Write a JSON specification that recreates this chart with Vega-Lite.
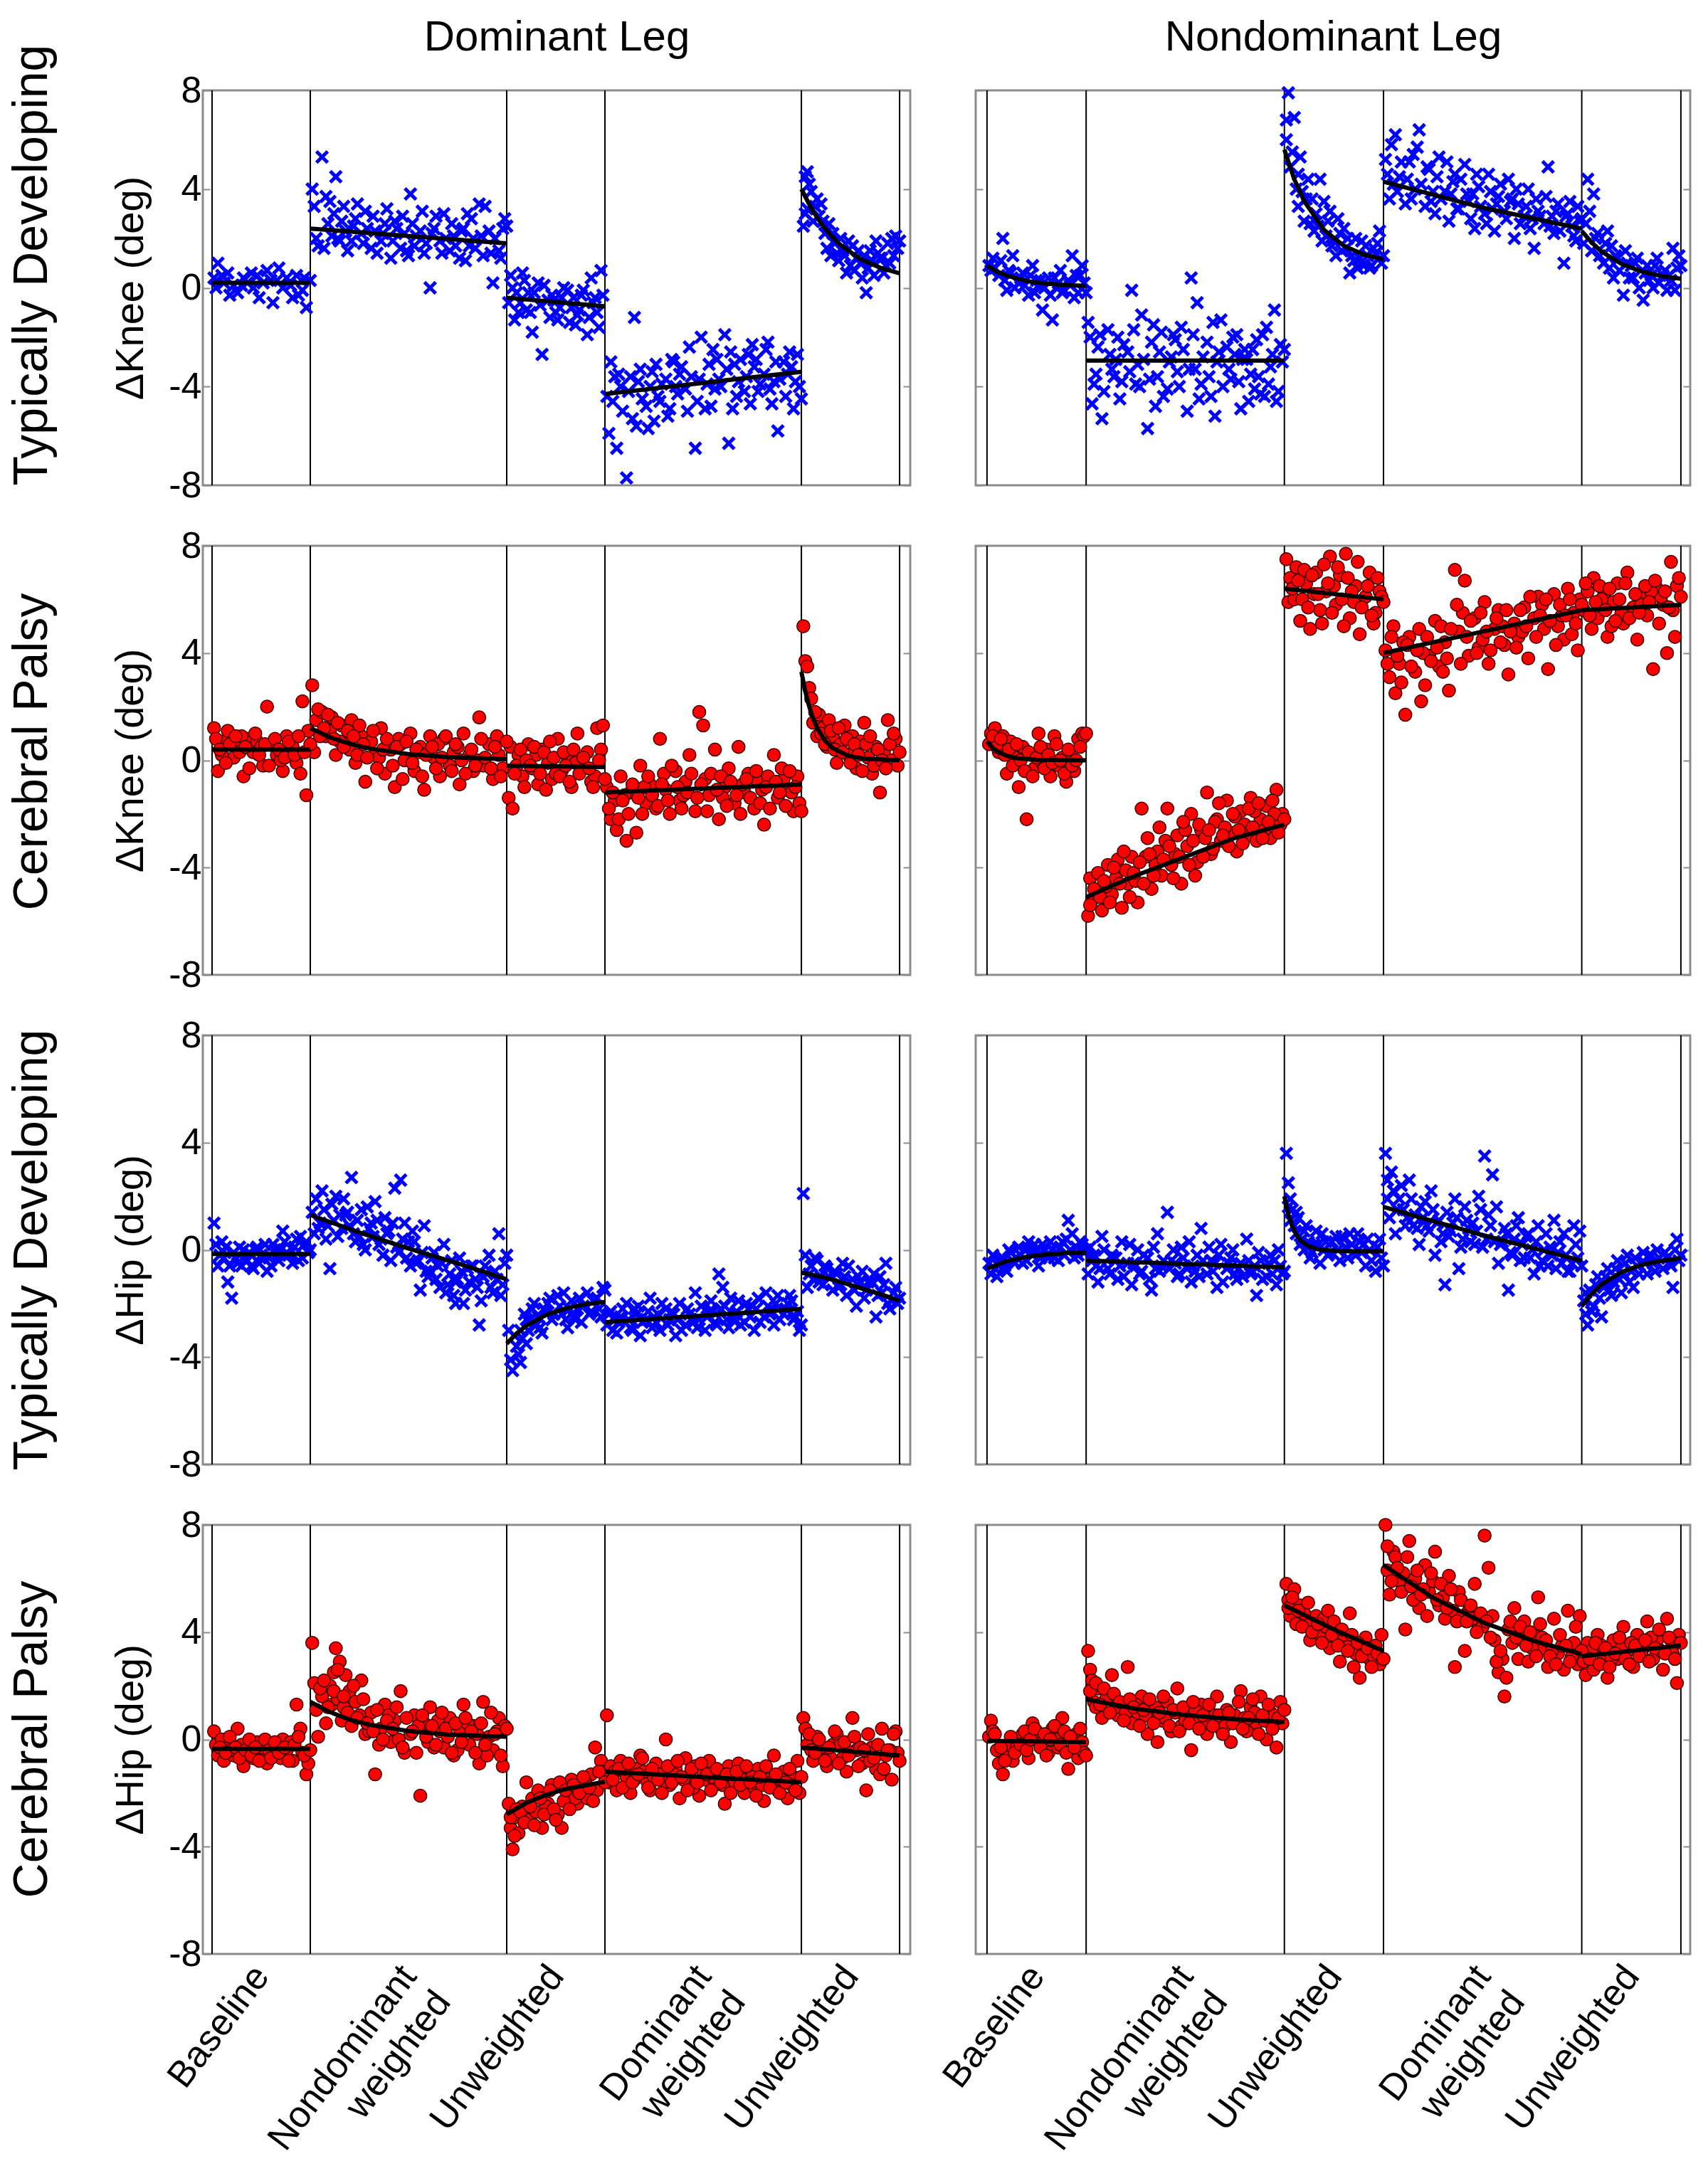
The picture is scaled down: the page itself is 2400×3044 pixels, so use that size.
{
  "$schema": "https://vega.github.io/schema/vega-lite/v6.json",
  "background": "white",
  "padding": {"left": 10, "top": 20, "right": 5, "bottom": 5},
  "columns": 2,
  "spacing": {"row": 85, "column": 92},
  "bounds": "flush",
  "datasets": {
    "div": [{"x":0},{"x":50},{"x":150},{"x":200},{"x":300},{"x":350}],
    "p1": [{"x":1,"y":0.4},{"x":3,"y":1.0},{"x":6,"y":0.2},{"x":8,"y":0.6},{"x":11,"y":0.1},{"x":13,"y":-0.2},{"x":16,"y":0.4},{"x":18,"y":0.2},{"x":21,"y":0.0},{"x":23,"y":0.5},{"x":26,"y":0.2},{"x":28,"y":0.7},{"x":31,"y":-0.6},{"x":33,"y":0.3},{"x":36,"y":0.0},{"x":38,"y":0.4},{"x":41,"y":-0.4},{"x":43,"y":0.5},{"x":46,"y":-0.1},{"x":48,"y":-0.8},
      {"x":51,"y":4.0},{"x":53,"y":2.0},{"x":56,"y":5.3},{"x":58,"y":3.7},{"x":61,"y":2.1},{"x":63,"y":4.5},{"x":66,"y":2.7},{"x":68,"y":2.3},{"x":71,"y":1.9},{"x":73,"y":2.8},{"x":76,"y":2.2},{"x":78,"y":3.1},{"x":81,"y":1.6},{"x":83,"y":2.3},{"x":86,"y":1.9},{"x":88,"y":2.6},{"x":91,"y":1.2},{"x":93,"y":2.7},{"x":96,"y":1.6},{"x":98,"y":2.2},{"x":101,"y":3.8},{"x":103,"y":1.7},{"x":106,"y":2.3},{"x":108,"y":1.4},{"x":111,"y":0.0},{"x":113,"y":2.4},{"x":116,"y":1.9},{"x":118,"y":3.0},{"x":121,"y":1.5},{"x":123,"y":2.1},{"x":126,"y":1.2},{"x":128,"y":2.4},{"x":131,"y":1.7},{"x":133,"y":2.0},{"x":136,"y":3.4},{"x":138,"y":1.3},{"x":141,"y":2.3},{"x":143,"y":0.2},{"x":146,"y":1.5},{"x":148,"y":2.4},{"x":57,"y":1.6},{"x":60,"y":3.5},{"x":65,"y":1.9},{"x":100,"y":1.3},{"x":130,"y":3.0},{"x":149,"y":2.8},
      {"x":151,"y":-0.6},{"x":153,"y":0.0},{"x":156,"y":-1.0},{"x":158,"y":0.6},{"x":161,"y":-0.2},{"x":163,"y":-1.8},{"x":166,"y":0.2},{"x":168,"y":-2.7},{"x":171,"y":-0.5},{"x":173,"y":-0.3},{"x":176,"y":-1.3},{"x":178,"y":-0.4},{"x":181,"y":-0.1},{"x":183,"y":-0.8},{"x":186,"y":-1.1},{"x":188,"y":-0.3},{"x":191,"y":-1.9},{"x":193,"y":0.4},{"x":196,"y":-1.0},{"x":198,"y":0.7},{"x":155,"y":-0.2},{"x":160,"y":-0.9},{"x":175,"y":-1.0},{"x":185,"y":-1.5},{"x":195,"y":-0.4},
      {"x":201,"y":-4.4},{"x":203,"y":-3.0},{"x":206,"y":-6.5},{"x":208,"y":-4.0},{"x":211,"y":-7.7},{"x":213,"y":-3.6},{"x":216,"y":-5.6},{"x":218,"y":-3.3},{"x":221,"y":-4.8},{"x":223,"y":-4.0},{"x":226,"y":-3.1},{"x":215,"y":-1.2},{"x":228,"y":-4.6},{"x":231,"y":-3.7},{"x":233,"y":-4.9},{"x":236,"y":-4.0},{"x":238,"y":-3.5},{"x":241,"y":-4.1},{"x":243,"y":-2.4},{"x":246,"y":-6.5},{"x":248,"y":-3.7},{"x":251,"y":-4.9},{"x":253,"y":-3.1},{"x":256,"y":-4.1},{"x":258,"y":-3.7},{"x":261,"y":-1.9},{"x":263,"y":-6.3},{"x":266,"y":-3.1},{"x":268,"y":-3.8},{"x":271,"y":-4.2},{"x":273,"y":-2.7},{"x":276,"y":-3.2},{"x":278,"y":-4.2},{"x":281,"y":-3.5},{"x":283,"y":-2.2},{"x":286,"y":-3.8},{"x":288,"y":-5.8},{"x":291,"y":-3.0},{"x":293,"y":-3.5},{"x":296,"y":-4.9},{"x":298,"y":-2.7},{"x":205,"y":-3.6},{"x":225,"y":-5.4},{"x":235,"y":-3.0},{"x":255,"y":-2.5},{"x":265,"y":-4.9},{"x":275,"y":-2.3},{"x":285,"y":-4.7},{"x":295,"y":-3.2},{"x":299,"y":-4.0},
      {"x":301,"y":2.5},{"x":303,"y":4.7},{"x":306,"y":2.7},{"x":308,"y":3.6},{"x":311,"y":2.7},{"x":313,"y":1.6},{"x":316,"y":2.2},{"x":318,"y":1.4},{"x":321,"y":1.5},{"x":323,"y":0.6},{"x":326,"y":1.7},{"x":328,"y":1.2},{"x":331,"y":0.4},{"x":333,"y":-0.2},{"x":336,"y":1.1},{"x":338,"y":1.9},{"x":341,"y":1.2},{"x":343,"y":0.9},{"x":346,"y":2.0},{"x":348,"y":2.1},{"x":302,"y":3.0},{"x":304,"y":4.2},{"x":305,"y":3.9},{"x":310,"y":3.4},{"x":315,"y":1.3},{"x":320,"y":2.0},{"x":325,"y":0.9},{"x":330,"y":1.0},{"x":335,"y":1.5},{"x":340,"y":1.2},{"x":345,"y":1.0},{"x":349,"y":1.6},
      {"x":2,"y":0.0},{"x":5,"y":0.5},{"x":9,"y":-0.3},{"x":15,"y":0.1},{"x":20,"y":0.6},{"x":24,"y":-0.4},{"x":30,"y":0.3},{"x":34,"y":0.8},{"x":40,"y":0.1},{"x":44,"y":-0.3},{"x":47,"y":0.4},{"x":50,"y":0.3},
      {"x":52,"y":3.3},{"x":54,"y":1.7},{"x":59,"y":2.6},{"x":62,"y":3.0},{"x":64,"y":2.0},{"x":67,"y":3.3},{"x":69,"y":1.5},{"x":72,"y":2.5},{"x":74,"y":3.4},{"x":77,"y":1.8},{"x":79,"y":2.4},{"x":82,"y":2.9},{"x":84,"y":1.4},{"x":87,"y":2.2},{"x":89,"y":3.2},{"x":92,"y":1.9},{"x":94,"y":2.4},{"x":97,"y":2.9},{"x":99,"y":1.5},{"x":102,"y":2.6},{"x":104,"y":2.1},{"x":107,"y":3.1},{"x":109,"y":1.8},{"x":112,"y":2.2},{"x":114,"y":2.9},{"x":117,"y":1.4},{"x":119,"y":2.0},{"x":122,"y":2.6},{"x":124,"y":1.7},{"x":127,"y":2.3},{"x":129,"y":1.1},{"x":132,"y":2.8},{"x":134,"y":1.6},{"x":137,"y":2.1},{"x":139,"y":3.3},{"x":142,"y":1.4},{"x":144,"y":2.0},{"x":147,"y":1.2},{"x":150,"y":2.5},
      {"x":152,"y":0.5},{"x":154,"y":-1.3},{"x":157,"y":-0.6},{"x":159,"y":0.3},{"x":162,"y":-1.0},{"x":164,"y":-0.2},{"x":167,"y":-0.7},{"x":169,"y":0.1},{"x":172,"y":-1.2},{"x":174,"y":-0.5},{"x":177,"y":-0.8},{"x":179,"y":0.0},{"x":182,"y":-1.4},{"x":184,"y":-0.4},{"x":187,"y":-0.9},{"x":189,"y":-0.1},{"x":192,"y":-1.2},{"x":194,"y":-0.6},{"x":197,"y":-1.6},{"x":199,"y":-0.3},
      {"x":202,"y":-5.9},{"x":204,"y":-4.6},{"x":207,"y":-3.5},{"x":209,"y":-5.0},{"x":212,"y":-4.2},{"x":214,"y":-5.3},{"x":217,"y":-3.8},{"x":219,"y":-4.5},{"x":222,"y":-5.7},{"x":224,"y":-3.4},{"x":227,"y":-4.4},{"x":229,"y":-3.9},{"x":232,"y":-5.2},{"x":234,"y":-2.9},{"x":237,"y":-4.3},{"x":239,"y":-3.2},{"x":242,"y":-5.0},{"x":244,"y":-3.6},{"x":247,"y":-4.6},{"x":249,"y":-2.0},{"x":252,"y":-3.9},{"x":254,"y":-4.8},{"x":257,"y":-2.9},{"x":259,"y":-4.0},{"x":262,"y":-3.3},{"x":264,"y":-2.6},{"x":267,"y":-4.4},{"x":269,"y":-2.9},{"x":272,"y":-3.6},{"x":274,"y":-4.7},{"x":277,"y":-2.9},{"x":279,"y":-3.9},{"x":282,"y":-2.5},{"x":284,"y":-4.1},{"x":287,"y":-3.0},{"x":289,"y":-3.7},{"x":292,"y":-4.4},{"x":294,"y":-2.6},{"x":297,"y":-3.8},{"x":300,"y":-4.5},
      {"x":302,"y":4.5},{"x":303,"y":3.2},{"x":307,"y":3.3},{"x":309,"y":2.9},{"x":312,"y":2.2},{"x":314,"y":2.6},{"x":317,"y":1.8},{"x":319,"y":1.1},{"x":322,"y":1.3},{"x":324,"y":1.9},{"x":327,"y":0.7},{"x":329,"y":1.5},{"x":332,"y":1.3},{"x":334,"y":0.8},{"x":337,"y":0.5},{"x":339,"y":1.4},{"x":342,"y":0.6},{"x":344,"y":1.8},{"x":347,"y":1.3},{"x":350,"y":1.9}],
    "f1": [{"s":1,"x":0,"y":0.2},{"s":1,"x":50,"y":0.2},{"s":2,"x":50,"y":2.4},{"s":2,"x":150,"y":1.8},{"s":3,"x":150,"y":-0.4},{"s":3,"x":200,"y":-0.75},{"s":4,"x":200,"y":-4.3},{"s":4,"x":300,"y":-3.4},{"s":5,"x":300,"y":4.0},{"s":5,"x":305,"y":3.23},{"s":5,"x":310,"y":2.61},{"s":5,"x":315,"y":2.12},{"s":5,"x":320,"y":1.73},{"s":5,"x":330,"y":1.17},{"s":5,"x":340,"y":0.82},{"s":5,"x":350,"y":0.59}],
    "p2": [{"x":1,"y":0.9},{"x":3,"y":1.2},{"x":6,"y":0.5},{"x":8,"y":2.0},{"x":11,"y":0.7},{"x":13,"y":1.3},{"x":16,"y":0.2},{"x":18,"y":0.6},{"x":21,"y":-0.3},{"x":23,"y":0.9},{"x":26,"y":0.1},{"x":28,"y":-0.9},{"x":31,"y":0.4},{"x":33,"y":-1.3},{"x":36,"y":0.2},{"x":38,"y":-0.2},{"x":41,"y":0.3},{"x":43,"y":1.3},{"x":46,"y":-0.2},{"x":48,"y":0.9},{"x":2,"y":0.7},{"x":10,"y":-0.1},{"x":25,"y":0.3},{"x":35,"y":0.0},{"x":45,"y":0.5},{"x":49,"y":0.2},
      {"x":51,"y":-1.4},{"x":53,"y":-4.7},{"x":56,"y":-2.4},{"x":58,"y":-5.3},{"x":61,"y":-1.7},{"x":63,"y":-3.3},{"x":66,"y":-2.0},{"x":68,"y":-3.8},{"x":71,"y":-2.6},{"x":73,"y":-0.1},{"x":76,"y":-3.1},{"x":78,"y":-1.1},{"x":81,"y":-5.7},{"x":83,"y":-2.2},{"x":86,"y":-3.6},{"x":88,"y":-1.8},{"x":91,"y":-4.1},{"x":93,"y":-2.8},{"x":96,"y":-3.4},{"x":98,"y":-1.6},{"x":101,"y":-5.0},{"x":103,"y":0.4},{"x":106,"y":-0.6},{"x":108,"y":-3.9},{"x":111,"y":-2.2},{"x":113,"y":-4.4},{"x":116,"y":-3.0},{"x":118,"y":-1.3},{"x":121,"y":-2.4},{"x":123,"y":-3.7},{"x":126,"y":-1.9},{"x":128,"y":-4.9},{"x":131,"y":-2.9},{"x":133,"y":-3.5},{"x":136,"y":-2.1},{"x":138,"y":-4.3},{"x":141,"y":-1.6},{"x":143,"y":-3.2},{"x":146,"y":-4.6},{"x":148,"y":-2.3},{"x":55,"y":-3.5},{"x":65,"y":-2.9},{"x":75,"y":-3.9},{"x":85,"y":-4.8},{"x":95,"y":-2.1},{"x":105,"y":-3.3},{"x":115,"y":-5.2},{"x":125,"y":-2.7},{"x":135,"y":-4.1},{"x":145,"y":-0.9},{"x":149,"y":-3.0},{"x":140,"y":-4.4},{"x":130,"y":-2.5},
      {"x":151,"y":6.0},{"x":152,"y":7.9},{"x":153,"y":4.9},{"x":155,"y":6.9},{"x":156,"y":4.0},{"x":158,"y":5.3},{"x":161,"y":3.6},{"x":163,"y":2.6},{"x":166,"y":3.0},{"x":168,"y":4.4},{"x":171,"y":2.1},{"x":173,"y":3.1},{"x":176,"y":1.3},{"x":178,"y":2.2},{"x":181,"y":1.6},{"x":183,"y":0.6},{"x":186,"y":2.0},{"x":188,"y":1.2},{"x":191,"y":1.7},{"x":193,"y":0.8},{"x":196,"y":1.4},{"x":198,"y":2.3},{"x":199,"y":1.0},{"x":157,"y":3.3},{"x":165,"y":2.3},{"x":175,"y":1.9},{"x":185,"y":1.1},{"x":195,"y":1.6},{"x":190,"y":0.9},
      {"x":201,"y":5.2},{"x":203,"y":3.6},{"x":206,"y":6.2},{"x":208,"y":4.5},{"x":211,"y":3.4},{"x":213,"y":5.1},{"x":216,"y":4.0},{"x":218,"y":6.4},{"x":221,"y":3.3},{"x":223,"y":4.8},{"x":226,"y":3.0},{"x":228,"y":5.3},{"x":231,"y":3.9},{"x":233,"y":2.7},{"x":236,"y":4.6},{"x":238,"y":3.2},{"x":241,"y":5.0},{"x":243,"y":3.5},{"x":246,"y":2.4},{"x":248,"y":4.1},{"x":251,"y":3.0},{"x":253,"y":4.6},{"x":256,"y":2.3},{"x":258,"y":3.7},{"x":261,"y":3.1},{"x":263,"y":4.4},{"x":266,"y":2.0},{"x":268,"y":3.4},{"x":271,"y":2.9},{"x":273,"y":4.0},{"x":276,"y":1.6},{"x":278,"y":3.1},{"x":281,"y":2.6},{"x":283,"y":4.9},{"x":286,"y":2.2},{"x":288,"y":3.4},{"x":291,"y":1.0},{"x":293,"y":3.0},{"x":296,"y":2.1},{"x":298,"y":3.3},{"x":205,"y":4.2},{"x":215,"y":5.4},{"x":225,"y":3.9},{"x":235,"y":4.3},{"x":245,"y":3.8},{"x":255,"y":3.2},{"x":265,"y":3.6},{"x":275,"y":2.8},{"x":285,"y":2.9},{"x":295,"y":2.5},{"x":299,"y":2.7},
      {"x":301,"y":1.8},{"x":303,"y":4.4},{"x":306,"y":3.8},{"x":308,"y":2.2},{"x":311,"y":1.0},{"x":313,"y":2.3},{"x":316,"y":0.4},{"x":318,"y":1.2},{"x":321,"y":-0.3},{"x":323,"y":1.0},{"x":326,"y":0.4},{"x":328,"y":1.2},{"x":331,"y":-0.5},{"x":333,"y":0.9},{"x":336,"y":0.0},{"x":338,"y":1.2},{"x":341,"y":0.5},{"x":343,"y":-0.1},{"x":346,"y":1.6},{"x":348,"y":0.8},{"x":349,"y":1.3},{"x":305,"y":1.5},{"x":315,"y":1.7},{"x":325,"y":0.9},{"x":335,"y":0.5},{"x":345,"y":0.3},
      {"x":4,"y":0.8},{"x":7,"y":1.1},{"x":9,"y":0.3},{"x":12,"y":0.6},{"x":14,"y":0.0},{"x":17,"y":0.4},{"x":19,"y":0.1},{"x":22,"y":0.5},{"x":24,"y":-0.2},{"x":27,"y":0.3},{"x":29,"y":0.0},{"x":32,"y":-0.3},{"x":34,"y":0.4},{"x":37,"y":0.7},{"x":39,"y":-0.1},{"x":42,"y":0.1},{"x":44,"y":-0.4},{"x":47,"y":0.5},{"x":50,"y":-0.2},
      {"x":52,"y":-2.0},{"x":54,"y":-3.9},{"x":57,"y":-1.9},{"x":59,"y":-4.2},{"x":62,"y":-2.7},{"x":64,"y":-3.6},{"x":67,"y":-4.5},{"x":69,"y":-2.3},{"x":72,"y":-3.4},{"x":74,"y":-1.7},{"x":77,"y":-4.0},{"x":79,"y":-2.9},{"x":82,"y":-3.7},{"x":84,"y":-1.5},{"x":87,"y":-2.6},{"x":89,"y":-4.4},{"x":92,"y":-3.0},{"x":94,"y":-1.9},{"x":97,"y":-4.0},{"x":99,"y":-2.5},{"x":102,"y":-3.3},{"x":104,"y":-1.9},{"x":107,"y":-4.5},{"x":109,"y":-2.8},{"x":112,"y":-3.6},{"x":114,"y":-1.4},{"x":117,"y":-2.6},{"x":119,"y":-4.0},{"x":122,"y":-3.3},{"x":124,"y":-2.0},{"x":127,"y":-3.8},{"x":129,"y":-2.9},{"x":132,"y":-4.6},{"x":134,"y":-2.5},{"x":137,"y":-3.6},{"x":139,"y":-1.9},{"x":142,"y":-3.9},{"x":144,"y":-2.7},{"x":147,"y":-4.2},{"x":150,"y":-2.5},
      {"x":151,"y":6.8},{"x":154,"y":5.5},{"x":157,"y":4.6},{"x":159,"y":3.9},{"x":160,"y":2.7},{"x":162,"y":4.4},{"x":164,"y":3.6},{"x":167,"y":2.5},{"x":169,"y":1.9},{"x":170,"y":3.5},{"x":172,"y":2.7},{"x":174,"y":1.7},{"x":177,"y":2.8},{"x":179,"y":1.5},{"x":180,"y":2.4},{"x":182,"y":2.0},{"x":184,"y":1.3},{"x":187,"y":0.8},{"x":189,"y":1.9},{"x":192,"y":1.3},{"x":194,"y":0.9},{"x":197,"y":1.8},{"x":200,"y":1.3},
      {"x":202,"y":4.6},{"x":204,"y":5.8},{"x":207,"y":3.9},{"x":209,"y":5.1},{"x":212,"y":4.4},{"x":214,"y":3.6},{"x":217,"y":5.7},{"x":219,"y":4.2},{"x":222,"y":4.9},{"x":224,"y":3.5},{"x":227,"y":4.5},{"x":229,"y":3.6},{"x":232,"y":5.1},{"x":234,"y":3.8},{"x":237,"y":3.2},{"x":239,"y":4.4},{"x":242,"y":3.8},{"x":244,"y":2.8},{"x":247,"y":4.6},{"x":249,"y":3.3},{"x":252,"y":2.6},{"x":254,"y":3.9},{"x":257,"y":3.4},{"x":259,"y":4.2},{"x":262,"y":2.8},{"x":264,"y":3.5},{"x":267,"y":4.0},{"x":269,"y":2.6},{"x":272,"y":3.3},{"x":274,"y":2.4},{"x":277,"y":3.6},{"x":279,"y":2.9},{"x":282,"y":3.7},{"x":284,"y":2.5},{"x":287,"y":3.1},{"x":289,"y":2.3},{"x":292,"y":2.9},{"x":294,"y":3.5},{"x":297,"y":1.9},{"x":300,"y":2.8},
      {"x":302,"y":2.6},{"x":304,"y":3.1},{"x":307,"y":2.0},{"x":309,"y":1.3},{"x":312,"y":1.8},{"x":314,"y":0.8},{"x":317,"y":1.3},{"x":319,"y":0.7},{"x":322,"y":1.5},{"x":324,"y":0.4},{"x":327,"y":1.0},{"x":329,"y":0.0},{"x":332,"y":0.6},{"x":334,"y":0.3},{"x":337,"y":0.9},{"x":339,"y":0.2},{"x":342,"y":0.7},{"x":344,"y":0.5},{"x":347,"y":-0.1},{"x":350,"y":0.9}],
    "f2": [{"s":1,"x":0,"y":0.9},{"s":1,"x":5,"y":0.66},{"s":1,"x":10,"y":0.49},{"s":1,"x":20,"y":0.27},{"s":1,"x":30,"y":0.17},{"s":1,"x":40,"y":0.11},{"s":1,"x":50,"y":0.08},{"s":2,"x":50,"y":-2.95},{"s":2,"x":150,"y":-2.95},{"s":3,"x":150,"y":5.6},{"s":3,"x":155,"y":4.4},{"s":3,"x":160,"y":3.51},{"s":3,"x":170,"y":2.35},{"s":3,"x":180,"y":1.7},{"s":3,"x":190,"y":1.35},{"s":3,"x":200,"y":1.15},{"s":4,"x":200,"y":4.3},{"s":4,"x":250,"y":3.25},{"s":4,"x":300,"y":2.4},{"s":5,"x":300,"y":2.3},{"s":5,"x":305,"y":1.84},{"s":5,"x":310,"y":1.47},{"s":5,"x":320,"y":0.97},{"s":5,"x":330,"y":0.67},{"s":5,"x":340,"y":0.48},{"s":5,"x":350,"y":0.37}],
    "p3": [{"x":1,"y":1.2},{"x":3,"y":-0.4},{"x":6,"y":0.7},{"x":8,"y":1.1},{"x":11,"y":0.1},{"x":13,"y":0.5},{"x":16,"y":-0.6},{"x":18,"y":0.8},{"x":21,"y":0.3},{"x":23,"y":0.7},{"x":26,"y":-0.2},{"x":28,"y":2.0},{"x":31,"y":0.6},{"x":33,"y":0.2},{"x":36,"y":-0.4},{"x":38,"y":0.9},{"x":41,"y":0.5},{"x":43,"y":-0.1},{"x":46,"y":2.2},{"x":48,"y":-1.3},{"x":49,"y":1.1},{"x":5,"y":0.2},{"x":15,"y":0.9},{"x":25,"y":0.5},{"x":35,"y":0.0},{"x":45,"y":-0.5},
      {"x":51,"y":2.8},{"x":52,"y":0.3},{"x":53,"y":1.5},{"x":56,"y":1.8},{"x":58,"y":0.9},{"x":61,"y":1.6},{"x":63,"y":0.2},{"x":66,"y":1.3},{"x":68,"y":0.6},{"x":71,"y":1.5},{"x":73,"y":-0.1},{"x":76,"y":0.9},{"x":78,"y":-0.8},{"x":81,"y":0.7},{"x":83,"y":0.2},{"x":86,"y":1.2},{"x":88,"y":-0.5},{"x":91,"y":0.4},{"x":93,"y":-1.0},{"x":96,"y":0.6},{"x":98,"y":0.0},{"x":101,"y":1.0},{"x":103,"y":-0.4},{"x":106,"y":0.5},{"x":108,"y":-1.1},{"x":111,"y":0.9},{"x":113,"y":0.1},{"x":116,"y":-0.6},{"x":118,"y":0.8},{"x":121,"y":-0.2},{"x":123,"y":0.3},{"x":126,"y":-0.9},{"x":128,"y":1.0},{"x":131,"y":0.2},{"x":133,"y":-0.4},{"x":136,"y":1.6},{"x":138,"y":-0.2},{"x":141,"y":0.6},{"x":143,"y":-0.7},{"x":146,"y":0.2},{"x":148,"y":-0.3},{"x":55,"y":0.9},{"x":60,"y":1.1},{"x":65,"y":0.7},{"x":70,"y":0.4},{"x":75,"y":1.3},{"x":85,"y":0.1},{"x":95,"y":0.8},{"x":105,"y":0.3},{"x":115,"y":0.6},{"x":125,"y":0.5},{"x":135,"y":0.0},{"x":145,"y":0.9},
      {"x":151,"y":-1.4},{"x":152,"y":0.5},{"x":153,"y":-1.8},{"x":156,"y":0.2},{"x":158,"y":-0.6},{"x":161,"y":0.6},{"x":163,"y":-0.3},{"x":166,"y":-0.9},{"x":168,"y":0.4},{"x":171,"y":-0.1},{"x":173,"y":-0.7},{"x":176,"y":0.8},{"x":178,"y":-0.4},{"x":181,"y":0.1},{"x":183,"y":-1.0},{"x":186,"y":1.0},{"x":188,"y":-0.3},{"x":191,"y":0.3},{"x":193,"y":-0.8},{"x":196,"y":1.2},{"x":198,"y":0.4},{"x":199,"y":1.3},{"x":155,"y":-0.2},{"x":165,"y":0.2},{"x":175,"y":-0.5},{"x":185,"y":-0.1},{"x":195,"y":-0.6},
      {"x":201,"y":-1.0},{"x":203,"y":-2.2},{"x":205,"y":-1.5},{"x":206,"y":-2.6},{"x":208,"y":-0.6},{"x":211,"y":-3.0},{"x":213,"y":-1.2},{"x":216,"y":-2.7},{"x":218,"y":-0.2},{"x":221,"y":-1.6},{"x":223,"y":-0.9},{"x":226,"y":-1.8},{"x":228,"y":0.8},{"x":231,"y":-1.1},{"x":233,"y":-2.0},{"x":236,"y":-0.4},{"x":238,"y":-1.5},{"x":241,"y":-0.8},{"x":243,"y":0.2},{"x":246,"y":-1.9},{"x":248,"y":1.8},{"x":251,"y":-0.7},{"x":253,"y":-1.3},{"x":256,"y":0.4},{"x":258,"y":-2.2},{"x":261,"y":-1.0},{"x":263,"y":-0.3},{"x":266,"y":-1.6},{"x":268,"y":0.5},{"x":271,"y":-1.2},{"x":273,"y":-0.5},{"x":276,"y":-1.8},{"x":278,"y":-0.8},{"x":281,"y":-2.4},{"x":283,"y":-0.6},{"x":286,"y":0.2},{"x":288,"y":-1.4},{"x":291,"y":-0.7},{"x":293,"y":-1.1},{"x":296,"y":-1.9},{"x":298,"y":-0.6},{"x":299,"y":-1.6},{"x":210,"y":-1.3},{"x":220,"y":-1.0},{"x":230,"y":-0.5},{"x":240,"y":-1.3},{"x":250,"y":1.3},{"x":260,"y":-1.4},{"x":270,"y":-0.9},{"x":280,"y":-1.1},{"x":290,"y":-0.3},{"x":295,"y":-1.2},
      {"x":301,"y":5.0},{"x":302,"y":3.7},{"x":303,"y":3.5},{"x":304,"y":2.7},{"x":305,"y":2.3},{"x":306,"y":1.4},{"x":308,"y":0.9},{"x":309,"y":1.7},{"x":311,"y":1.2},{"x":313,"y":0.5},{"x":314,"y":1.5},{"x":316,"y":0.9},{"x":318,"y":-0.1},{"x":320,"y":0.6},{"x":322,"y":1.3},{"x":324,"y":0.2},{"x":326,"y":0.9},{"x":328,"y":-0.3},{"x":330,"y":0.7},{"x":332,"y":1.4},{"x":334,"y":0.1},{"x":336,"y":-0.5},{"x":338,"y":0.5},{"x":340,"y":-1.2},{"x":342,"y":0.3},{"x":344,"y":1.5},{"x":346,"y":0.0},{"x":348,"y":0.8},{"x":349,"y":-0.2},
      {"x":2,"y":0.8},{"x":4,"y":0.4},{"x":7,"y":-0.1},{"x":9,"y":0.6},{"x":12,"y":0.9},{"x":14,"y":0.3},{"x":17,"y":0.5},{"x":19,"y":-0.3},{"x":22,"y":1.0},{"x":24,"y":0.2},{"x":27,"y":0.6},{"x":29,"y":-0.2},{"x":32,"y":0.8},{"x":34,"y":0.4},{"x":37,"y":0.1},{"x":39,"y":0.7},{"x":42,"y":0.2},{"x":44,"y":0.9},{"x":47,"y":0.3},{"x":50,"y":0.6},
      {"x":54,"y":1.9},{"x":57,"y":1.2},{"x":59,"y":1.7},{"x":62,"y":0.8},{"x":64,"y":1.4},{"x":67,"y":0.5},{"x":69,"y":1.1},{"x":72,"y":0.9},{"x":74,"y":0.2},{"x":77,"y":0.6},{"x":79,"y":0.1},{"x":82,"y":1.1},{"x":84,"y":-0.3},{"x":87,"y":0.4},{"x":89,"y":0.8},{"x":92,"y":-0.2},{"x":94,"y":0.5},{"x":97,"y":-0.7},{"x":99,"y":0.7},{"x":102,"y":-0.1},{"x":104,"y":0.4},{"x":107,"y":-0.6},{"x":109,"y":0.2},{"x":112,"y":0.5},{"x":114,"y":-0.3},{"x":117,"y":0.1},{"x":119,"y":0.9},{"x":122,"y":-0.4},{"x":124,"y":0.6},{"x":127,"y":0.0},{"x":129,"y":-0.5},{"x":132,"y":0.4},{"x":134,"y":-0.2},{"x":137,"y":0.8},{"x":139,"y":0.1},{"x":142,"y":-0.3},{"x":144,"y":0.5},{"x":147,"y":-0.6},{"x":150,"y":0.7},
      {"x":154,"y":-0.5},{"x":157,"y":0.4},{"x":159,"y":-1.0},{"x":160,"y":0.0},{"x":162,"y":-0.2},{"x":164,"y":0.5},{"x":167,"y":-0.5},{"x":169,"y":0.3},{"x":170,"y":-1.1},{"x":172,"y":0.7},{"x":174,"y":0.1},{"x":177,"y":-0.6},{"x":179,"y":0.3},{"x":180,"y":-0.2},{"x":182,"y":-0.8},{"x":184,"y":0.4},{"x":187,"y":-0.5},{"x":189,"y":0.1},{"x":192,"y":-0.3},{"x":194,"y":-1.0},{"x":197,"y":0.0},{"x":200,"y":-0.7},
      {"x":202,"y":-1.8},{"x":204,"y":-1.2},{"x":207,"y":-2.2},{"x":209,"y":-1.5},{"x":212,"y":-2.0},{"x":214,"y":-0.9},{"x":217,"y":-1.4},{"x":219,"y":-2.0},{"x":222,"y":-0.6},{"x":224,"y":-1.3},{"x":227,"y":-1.7},{"x":229,"y":-0.9},{"x":232,"y":-1.5},{"x":234,"y":-0.2},{"x":237,"y":-1.0},{"x":239,"y":-1.8},{"x":242,"y":-1.2},{"x":244,"y":-0.5},{"x":247,"y":-1.4},{"x":249,"y":-0.9},{"x":252,"y":-1.9},{"x":254,"y":-0.5},{"x":257,"y":-1.1},{"x":259,"y":-0.6},{"x":262,"y":-1.7},{"x":264,"y":-0.8},{"x":267,"y":-1.3},{"x":269,"y":-2.0},{"x":272,"y":-0.7},{"x":274,"y":-1.4},{"x":277,"y":-0.4},{"x":279,"y":-1.6},{"x":282,"y":-1.0},{"x":284,"y":-1.8},{"x":287,"y":-0.8},{"x":289,"y":-1.2},{"x":292,"y":-1.7},{"x":294,"y":-0.4},{"x":297,"y":-1.0},{"x":300,"y":-1.9},
      {"x":307,"y":1.8},{"x":310,"y":1.0},{"x":312,"y":0.6},{"x":315,"y":1.1},{"x":317,"y":0.4},{"x":319,"y":1.2},{"x":321,"y":0.3},{"x":323,"y":0.8},{"x":325,"y":-0.1},{"x":327,"y":0.6},{"x":329,"y":0.2},{"x":331,"y":-0.4},{"x":333,"y":0.6},{"x":335,"y":0.9},{"x":337,"y":-0.2},{"x":339,"y":0.4},{"x":341,"y":0.0},{"x":343,"y":-0.3},{"x":345,"y":0.6},{"x":347,"y":1.0},{"x":350,"y":0.3}],
    "f3": [{"s":1,"x":0,"y":0.4},{"s":1,"x":50,"y":0.4},{"s":2,"x":50,"y":1.2},{"s":2,"x":60,"y":0.86},{"s":2,"x":70,"y":0.62},{"s":2,"x":80,"y":0.44},{"s":2,"x":100,"y":0.23},{"s":2,"x":120,"y":0.12},{"s":2,"x":150,"y":0.04},{"s":3,"x":150,"y":-0.2},{"s":3,"x":200,"y":-0.25},{"s":4,"x":200,"y":-1.2},{"s":4,"x":300,"y":-0.9},{"s":5,"x":300,"y":3.3},{"s":5,"x":302,"y":2.57},{"s":5,"x":304,"y":2.0},{"s":5,"x":306,"y":1.56},{"s":5,"x":308,"y":1.21},{"s":5,"x":312,"y":0.74},{"s":5,"x":316,"y":0.45},{"s":5,"x":324,"y":0.16},{"s":5,"x":332,"y":0.06},{"s":5,"x":350,"y":0.0}],
    "p4": [{"x":1,"y":0.6},{"x":2,"y":1.0},{"x":4,"y":1.2},{"x":6,"y":0.3},{"x":8,"y":0.9},{"x":10,"y":-0.5},{"x":12,"y":0.7},{"x":14,"y":0.1},{"x":16,"y":-1.0},{"x":18,"y":0.5},{"x":20,"y":-2.2},{"x":22,"y":0.2},{"x":24,"y":-0.3},{"x":26,"y":1.0},{"x":28,"y":-0.1},{"x":30,"y":0.4},{"x":32,"y":-0.6},{"x":34,"y":0.9},{"x":36,"y":-0.2},{"x":38,"y":0.1},{"x":40,"y":-0.8},{"x":42,"y":0.3},{"x":44,"y":-0.4},{"x":46,"y":0.8},{"x":48,"y":1.0},{"x":49,"y":0.9},
      {"x":51,"y":-5.8},{"x":52,"y":-4.4},{"x":53,"y":-5.2},{"x":56,"y":-4.2},{"x":58,"y":-5.6},{"x":61,"y":-3.9},{"x":63,"y":-5.0},{"x":66,"y":-3.7},{"x":68,"y":-5.5},{"x":71,"y":-4.6},{"x":73,"y":-3.6},{"x":76,"y":-5.3},{"x":78,"y":-1.8},{"x":81,"y":-2.9},{"x":83,"y":-4.8},{"x":86,"y":-3.4},{"x":88,"y":-4.3},{"x":91,"y":-1.8},{"x":93,"y":-3.9},{"x":96,"y":-2.8},{"x":98,"y":-4.6},{"x":101,"y":-3.2},{"x":103,"y":-2.0},{"x":106,"y":-3.8},{"x":108,"y":-2.6},{"x":111,"y":-1.2},{"x":113,"y":-3.5},{"x":116,"y":-2.2},{"x":118,"y":-3.0},{"x":121,"y":-1.5},{"x":123,"y":-2.7},{"x":126,"y":-3.4},{"x":128,"y":-1.9},{"x":131,"y":-2.8},{"x":133,"y":-1.4},{"x":136,"y":-3.0},{"x":138,"y":-2.2},{"x":141,"y":-1.7},{"x":143,"y":-2.9},{"x":146,"y":-1.1},{"x":148,"y":-2.4},{"x":149,"y":-2.0},{"x":55,"y":-4.9},{"x":60,"y":-4.7},{"x":65,"y":-4.4},{"x":70,"y":-4.1},{"x":75,"y":-4.5},{"x":80,"y":-3.6},{"x":85,"y":-3.9},{"x":90,"y":-3.0},{"x":95,"y":-3.5},{"x":100,"y":-2.6},{"x":110,"y":-2.9},{"x":115,"y":-2.3},{"x":120,"y":-2.5},{"x":125,"y":-2.1},{"x":130,"y":-2.4},{"x":135,"y":-1.9},{"x":140,"y":-2.6},{"x":145,"y":-2.0},{"x":105,"y":-4.3},
      {"x":151,"y":7.5},{"x":152,"y":5.9},{"x":153,"y":6.8},{"x":156,"y":7.2},{"x":158,"y":5.2},{"x":161,"y":6.6},{"x":163,"y":4.9},{"x":166,"y":7.0},{"x":168,"y":5.6},{"x":171,"y":6.3},{"x":173,"y":7.6},{"x":176,"y":5.8},{"x":178,"y":6.9},{"x":181,"y":7.7},{"x":183,"y":5.3},{"x":186,"y":6.5},{"x":188,"y":4.7},{"x":191,"y":6.1},{"x":193,"y":7.0},{"x":196,"y":5.5},{"x":198,"y":6.3},{"x":199,"y":6.1},{"x":155,"y":6.0},{"x":165,"y":6.2},{"x":175,"y":6.5},{"x":185,"y":5.9},{"x":195,"y":5.1},
      {"x":201,"y":4.1},{"x":203,"y":3.1},{"x":205,"y":5.0},{"x":206,"y":2.5},{"x":208,"y":3.6},{"x":211,"y":1.7},{"x":213,"y":4.6},{"x":216,"y":3.3},{"x":218,"y":4.9},{"x":221,"y":2.8},{"x":223,"y":3.9},{"x":226,"y":5.2},{"x":228,"y":3.5},{"x":231,"y":4.4},{"x":233,"y":2.6},{"x":236,"y":7.1},{"x":238,"y":4.8},{"x":241,"y":6.7},{"x":243,"y":3.9},{"x":246,"y":5.3},{"x":248,"y":4.2},{"x":251,"y":5.9},{"x":253,"y":3.6},{"x":256,"y":4.9},{"x":258,"y":5.6},{"x":261,"y":4.3},{"x":263,"y":3.2},{"x":266,"y":5.1},{"x":268,"y":4.6},{"x":271,"y":5.7},{"x":273,"y":3.8},{"x":276,"y":5.3},{"x":278,"y":6.1},{"x":281,"y":4.9},{"x":283,"y":3.4},{"x":286,"y":6.2},{"x":288,"y":5.0},{"x":291,"y":4.5},{"x":293,"y":6.4},{"x":296,"y":5.5},{"x":298,"y":4.1},{"x":299,"y":6.0},{"x":210,"y":4.4},{"x":220,"y":4.0},{"x":230,"y":3.3},{"x":240,"y":5.5},{"x":250,"y":4.5},{"x":260,"y":5.0},{"x":270,"y":4.8},{"x":280,"y":5.8},{"x":290,"y":5.4},{"x":295,"y":4.7},
      {"x":301,"y":5.6},{"x":303,"y":6.3},{"x":305,"y":4.9},{"x":306,"y":6.8},{"x":308,"y":5.3},{"x":311,"y":6.1},{"x":313,"y":4.6},{"x":316,"y":5.9},{"x":318,"y":6.6},{"x":321,"y":5.1},{"x":323,"y":7.0},{"x":326,"y":5.7},{"x":328,"y":4.5},{"x":331,"y":6.2},{"x":333,"y":5.4},{"x":336,"y":3.4},{"x":338,"y":6.4},{"x":341,"y":5.8},{"x":343,"y":4.0},{"x":345,"y":7.4},{"x":346,"y":5.6},{"x":348,"y":6.5},{"x":349,"y":6.8},{"x":310,"y":6.0},{"x":320,"y":5.5},{"x":330,"y":5.8},{"x":340,"y":6.1},{"x":315,"y":5.0},{"x":335,"y":6.3},
      {"x":3,"y":0.9},{"x":5,"y":0.5},{"x":7,"y":0.8},{"x":9,"y":0.2},{"x":11,"y":0.4},{"x":13,"y":-0.2},{"x":15,"y":0.6},{"x":17,"y":0.0},{"x":19,"y":-0.4},{"x":21,"y":0.3},{"x":23,"y":-0.6},{"x":25,"y":0.1},{"x":27,"y":0.5},{"x":29,"y":-0.3},{"x":31,"y":0.2},{"x":33,"y":-0.1},{"x":35,"y":0.6},{"x":37,"y":0.0},{"x":39,"y":-0.5},{"x":41,"y":0.4},{"x":43,"y":-0.2},{"x":45,"y":0.0},{"x":47,"y":0.5},{"x":50,"y":1.0},
      {"x":52,"y":-5.4},{"x":54,"y":-4.8},{"x":57,"y":-5.1},{"x":59,"y":-4.5},{"x":62,"y":-5.3},{"x":64,"y":-4.0},{"x":67,"y":-4.6},{"x":69,"y":-3.4},{"x":72,"y":-5.1},{"x":74,"y":-4.2},{"x":77,"y":-3.8},{"x":79,"y":-4.6},{"x":82,"y":-3.5},{"x":84,"y":-4.3},{"x":87,"y":-2.5},{"x":89,"y":-3.7},{"x":92,"y":-3.2},{"x":94,"y":-4.4},{"x":97,"y":-3.6},{"x":99,"y":-2.3},{"x":102,"y":-3.9},{"x":104,"y":-3.0},{"x":107,"y":-2.4},{"x":109,"y":-3.6},{"x":112,"y":-2.6},{"x":114,"y":-3.3},{"x":117,"y":-1.6},{"x":119,"y":-2.8},{"x":122,"y":-3.2},{"x":124,"y":-2.0},{"x":127,"y":-2.6},{"x":129,"y":-3.1},{"x":132,"y":-1.8},{"x":134,"y":-2.5},{"x":137,"y":-1.6},{"x":139,"y":-2.9},{"x":142,"y":-2.3},{"x":144,"y":-1.5},{"x":147,"y":-2.7},{"x":150,"y":-2.2},
      {"x":154,"y":6.4},{"x":157,"y":6.7},{"x":159,"y":6.0},{"x":160,"y":7.1},{"x":162,"y":5.7},{"x":164,"y":6.9},{"x":167,"y":6.2},{"x":169,"y":5.1},{"x":170,"y":7.3},{"x":172,"y":6.6},{"x":174,"y":5.5},{"x":177,"y":7.2},{"x":179,"y":6.0},{"x":180,"y":5.0},{"x":182,"y":6.8},{"x":184,"y":6.3},{"x":187,"y":7.4},{"x":189,"y":5.7},{"x":192,"y":6.5},{"x":194,"y":5.4},{"x":197,"y":6.8},{"x":200,"y":5.9},
      {"x":202,"y":3.6},{"x":204,"y":4.6},{"x":207,"y":3.9},{"x":209,"y":2.9},{"x":212,"y":4.3},{"x":214,"y":3.5},{"x":217,"y":4.1},{"x":219,"y":2.2},{"x":222,"y":4.6},{"x":224,"y":3.7},{"x":227,"y":4.2},{"x":229,"y":5.0},{"x":232,"y":3.8},{"x":234,"y":4.9},{"x":237,"y":5.8},{"x":239,"y":3.6},{"x":242,"y":4.6},{"x":244,"y":5.2},{"x":247,"y":4.0},{"x":249,"y":5.5},{"x":252,"y":4.8},{"x":254,"y":4.1},{"x":257,"y":5.3},{"x":259,"y":4.4},{"x":262,"y":5.6},{"x":264,"y":4.8},{"x":267,"y":4.2},{"x":269,"y":5.6},{"x":272,"y":5.0},{"x":274,"y":6.1},{"x":277,"y":4.6},{"x":279,"y":5.4},{"x":282,"y":6.0},{"x":284,"y":5.2},{"x":287,"y":4.3},{"x":289,"y":5.8},{"x":292,"y":5.4},{"x":294,"y":6.0},{"x":297,"y":5.1},{"x":300,"y":5.8},
      {"x":302,"y":6.6},{"x":304,"y":5.4},{"x":307,"y":5.9},{"x":309,"y":6.5},{"x":312,"y":5.6},{"x":314,"y":6.4},{"x":317,"y":5.2},{"x":319,"y":6.0},{"x":322,"y":6.6},{"x":324,"y":5.3},{"x":327,"y":6.2},{"x":329,"y":5.5},{"x":332,"y":6.5},{"x":334,"y":5.9},{"x":337,"y":6.7},{"x":339,"y":5.1},{"x":342,"y":6.3},{"x":344,"y":5.7},{"x":347,"y":4.6},{"x":350,"y":6.1}],
    "f4": [{"s":1,"x":0,"y":0.7},{"s":1,"x":3,"y":0.46},{"s":1,"x":6,"y":0.3},{"s":1,"x":10,"y":0.17},{"s":1,"x":15,"y":0.08},{"s":1,"x":25,"y":0.02},{"s":1,"x":50,"y":0.0},{"s":2,"x":50,"y":-5.1},{"s":2,"x":75,"y":-4.3},{"s":2,"x":100,"y":-3.6},{"s":2,"x":125,"y":-2.9},{"s":2,"x":150,"y":-2.4},{"s":3,"x":150,"y":6.4},{"s":3,"x":200,"y":6.0},{"s":4,"x":200,"y":4.0},{"s":4,"x":300,"y":5.6},{"s":5,"x":300,"y":5.6},{"s":5,"x":350,"y":5.8}],
    "p5": [{"x":1,"y":1.0},{"x":2,"y":0.2},{"x":3,"y":-0.6},{"x":6,"y":-0.3},{"x":8,"y":-1.2},{"x":10,"y":-1.8},{"x":11,"y":-0.1},{"x":13,"y":-0.5},{"x":16,"y":0.0},{"x":18,"y":-0.4},{"x":21,"y":-0.7},{"x":23,"y":0.1},{"x":26,"y":-0.3},{"x":28,"y":-0.8},{"x":31,"y":0.2},{"x":33,"y":-0.2},{"x":36,"y":0.7},{"x":38,"y":-0.1},{"x":41,"y":-0.5},{"x":43,"y":0.4},{"x":46,"y":-0.3},{"x":48,"y":0.3},{"x":49,"y":-0.1},{"x":5,"y":0.3},{"x":15,"y":-0.6},{"x":25,"y":-0.2},{"x":35,"y":0.0},{"x":45,"y":0.5},
      {"x":51,"y":1.4},{"x":52,"y":0.6},{"x":53,"y":1.9},{"x":56,"y":2.2},{"x":58,"y":0.4},{"x":60,"y":-0.7},{"x":61,"y":1.7},{"x":63,"y":2.0},{"x":66,"y":0.8},{"x":68,"y":1.3},{"x":71,"y":2.7},{"x":73,"y":0.3},{"x":76,"y":1.5},{"x":78,"y":0.0},{"x":81,"y":1.0},{"x":83,"y":1.8},{"x":86,"y":0.4},{"x":88,"y":1.2},{"x":91,"y":-0.4},{"x":93,"y":2.3},{"x":96,"y":2.6},{"x":98,"y":1.0},{"x":101,"y":-0.6},{"x":103,"y":0.3},{"x":106,"y":-1.5},{"x":108,"y":0.9},{"x":111,"y":-0.8},{"x":113,"y":-0.1},{"x":116,"y":-1.4},{"x":118,"y":0.2},{"x":121,"y":-0.9},{"x":123,"y":-1.7},{"x":126,"y":-0.3},{"x":128,"y":-2.0},{"x":131,"y":-1.2},{"x":133,"y":-0.6},{"x":136,"y":-2.8},{"x":138,"y":-1.0},{"x":141,"y":-0.2},{"x":143,"y":-1.6},{"x":146,"y":0.6},{"x":148,"y":-1.3},{"x":149,"y":-0.5},{"x":55,"y":1.0},{"x":65,"y":1.3},{"x":70,"y":0.9},{"x":75,"y":0.5},{"x":80,"y":0.8},{"x":85,"y":0.2},{"x":90,"y":0.7},{"x":95,"y":-0.1},{"x":100,"y":0.3},{"x":105,"y":-0.4},{"x":110,"y":-1.0},{"x":115,"y":-0.6},{"x":120,"y":-1.3},{"x":125,"y":-1.1},{"x":130,"y":-0.7},{"x":135,"y":-1.4},{"x":140,"y":-0.9},{"x":145,"y":-1.1},{"x":124,"y":-2.0},
      {"x":151,"y":-3.0},{"x":152,"y":-4.1},{"x":153,"y":-4.5},{"x":155,"y":-3.6},{"x":156,"y":-3.9},{"x":158,"y":-3.3},{"x":160,"y":-2.6},{"x":161,"y":-3.0},{"x":163,"y":-2.2},{"x":165,"y":-2.8},{"x":166,"y":-2.5},{"x":168,"y":-3.1},{"x":171,"y":-2.0},{"x":173,"y":-2.6},{"x":176,"y":-1.7},{"x":178,"y":-2.4},{"x":181,"y":-2.9},{"x":183,"y":-1.9},{"x":186,"y":-2.2},{"x":188,"y":-2.7},{"x":191,"y":-1.6},{"x":193,"y":-2.3},{"x":196,"y":-1.8},{"x":198,"y":-2.5},{"x":199,"y":-1.4},{"x":157,"y":-4.2},{"x":170,"y":-2.3},{"x":185,"y":-2.6},
      {"x":201,"y":-2.8},{"x":203,"y":-2.3},{"x":206,"y":-3.1},{"x":208,"y":-2.5},{"x":211,"y":-2.0},{"x":213,"y":-2.9},{"x":216,"y":-2.4},{"x":218,"y":-3.2},{"x":221,"y":-2.6},{"x":223,"y":-1.8},{"x":226,"y":-2.7},{"x":228,"y":-3.0},{"x":231,"y":-2.2},{"x":233,"y":-2.6},{"x":236,"y":-3.2},{"x":238,"y":-2.0},{"x":241,"y":-2.8},{"x":243,"y":-2.4},{"x":246,"y":-1.6},{"x":248,"y":-2.6},{"x":251,"y":-3.0},{"x":253,"y":-2.3},{"x":256,"y":-2.7},{"x":258,"y":-0.9},{"x":260,"y":-1.4},{"x":261,"y":-2.1},{"x":263,"y":-2.9},{"x":266,"y":-2.4},{"x":268,"y":-1.9},{"x":271,"y":-2.7},{"x":273,"y":-2.2},{"x":276,"y":-3.0},{"x":278,"y":-1.8},{"x":281,"y":-2.5},{"x":283,"y":-2.1},{"x":286,"y":-2.8},{"x":288,"y":-1.7},{"x":291,"y":-2.4},{"x":293,"y":-2.0},{"x":296,"y":-2.6},{"x":298,"y":-2.3},{"x":299,"y":-3.0},{"x":205,"y":-2.6},{"x":215,"y":-2.2},{"x":225,"y":-2.5},{"x":235,"y":-2.4},{"x":245,"y":-2.7},{"x":255,"y":-2.3},{"x":265,"y":-2.6},{"x":275,"y":-2.1},{"x":285,"y":-2.3},{"x":295,"y":-1.9},
      {"x":301,"y":2.1},{"x":302,"y":-0.2},{"x":303,"y":-1.4},{"x":305,"y":-0.6},{"x":306,"y":-1.1},{"x":308,"y":-0.4},{"x":311,"y":-1.3},{"x":313,"y":-0.7},{"x":316,"y":-1.5},{"x":318,"y":-0.9},{"x":321,"y":-0.5},{"x":323,"y":-1.7},{"x":326,"y":-1.1},{"x":328,"y":-2.1},{"x":331,"y":-0.8},{"x":333,"y":-1.5},{"x":336,"y":-1.2},{"x":338,"y":-2.5},{"x":341,"y":-1.6},{"x":343,"y":-0.5},{"x":346,"y":-1.9},{"x":348,"y":-1.4},{"x":349,"y":-2.0},{"x":310,"y":-1.0},{"x":320,"y":-1.3},{"x":330,"y":-1.2},{"x":340,"y":-1.0},{"x":345,"y":-2.2},
      {"x":4,"y":-0.2},{"x":7,"y":0.1},{"x":9,"y":-0.6},{"x":12,"y":-0.3},{"x":14,"y":0.1},{"x":17,"y":-0.4},{"x":19,"y":-0.1},{"x":20,"y":-0.6},{"x":22,"y":0.0},{"x":24,"y":-0.5},{"x":27,"y":0.2},{"x":29,"y":-0.3},{"x":30,"y":-0.6},{"x":32,"y":0.0},{"x":34,"y":-0.4},{"x":37,"y":0.3},{"x":39,"y":-0.2},{"x":42,"y":0.1},{"x":44,"y":-0.4},{"x":47,"y":0.2},{"x":50,"y":0.0},
      {"x":54,"y":0.8},{"x":57,"y":1.5},{"x":59,"y":0.9},{"x":62,"y":1.1},{"x":64,"y":0.5},{"x":67,"y":1.9},{"x":69,"y":1.4},{"x":72,"y":0.6},{"x":74,"y":1.1},{"x":77,"y":0.2},{"x":79,"y":1.6},{"x":82,"y":0.5},{"x":84,"y":1.1},{"x":87,"y":-0.2},{"x":89,"y":0.6},{"x":92,"y":1.0},{"x":94,"y":0.1},{"x":97,"y":0.4},{"x":99,"y":-0.3},{"x":102,"y":0.7},{"x":104,"y":-0.5},{"x":107,"y":-0.1},{"x":109,"y":-0.8},{"x":112,"y":-0.3},{"x":114,"y":-1.1},{"x":117,"y":-0.5},{"x":119,"y":-1.6},{"x":122,"y":-0.4},{"x":124,"y":-1.2},{"x":127,"y":-0.8},{"x":129,"y":-1.5},{"x":132,"y":-0.6},{"x":134,"y":-1.1},{"x":137,"y":-1.9},{"x":139,"y":-0.6},{"x":142,"y":-1.4},{"x":144,"y":-0.8},{"x":147,"y":-1.7},{"x":150,"y":-0.2},
      {"x":154,"y":-3.2},{"x":157,"y":-3.0},{"x":159,"y":-2.4},{"x":160,"y":-3.5},{"x":162,"y":-2.6},{"x":164,"y":-2.0},{"x":167,"y":-2.9},{"x":169,"y":-2.2},{"x":172,"y":-1.8},{"x":174,"y":-2.4},{"x":177,"y":-2.1},{"x":179,"y":-1.6},{"x":180,"y":-2.6},{"x":182,"y":-2.2},{"x":184,"y":-2.5},{"x":187,"y":-1.8},{"x":189,"y":-2.1},{"x":192,"y":-2.4},{"x":194,"y":-1.9},{"x":197,"y":-2.2},{"x":200,"y":-1.5},
      {"x":202,"y":-2.4},{"x":204,"y":-3.0},{"x":207,"y":-2.7},{"x":209,"y":-2.2},{"x":212,"y":-2.6},{"x":214,"y":-3.0},{"x":217,"y":-2.1},{"x":219,"y":-2.7},{"x":222,"y":-2.3},{"x":224,"y":-2.9},{"x":227,"y":-2.4},{"x":229,"y":-2.0},{"x":232,"y":-2.8},{"x":234,"y":-2.3},{"x":237,"y":-2.6},{"x":239,"y":-3.0},{"x":242,"y":-2.2},{"x":244,"y":-2.6},{"x":247,"y":-2.9},{"x":249,"y":-2.1},{"x":252,"y":-2.5},{"x":254,"y":-1.9},{"x":257,"y":-2.8},{"x":259,"y":-2.2},{"x":262,"y":-2.6},{"x":264,"y":-1.8},{"x":267,"y":-2.3},{"x":269,"y":-2.8},{"x":272,"y":-2.0},{"x":274,"y":-2.5},{"x":277,"y":-2.2},{"x":279,"y":-2.7},{"x":282,"y":-1.6},{"x":284,"y":-2.4},{"x":287,"y":-2.0},{"x":289,"y":-2.6},{"x":292,"y":-2.2},{"x":294,"y":-1.7},{"x":297,"y":-2.5},{"x":300,"y":-2.8},
      {"x":304,"y":-0.9},{"x":307,"y":-0.3},{"x":309,"y":-1.2},{"x":312,"y":-0.6},{"x":314,"y":-1.0},{"x":317,"y":-0.8},{"x":319,"y":-1.4},{"x":322,"y":-1.0},{"x":324,"y":-0.6},{"x":327,"y":-1.5},{"x":329,"y":-1.0},{"x":332,"y":-1.8},{"x":334,"y":-1.2},{"x":337,"y":-0.9},{"x":339,"y":-1.7},{"x":342,"y":-1.3},{"x":344,"y":-2.0},{"x":347,"y":-1.6},{"x":350,"y":-1.8}],
    "f5": [{"s":1,"x":0,"y":-0.15},{"s":1,"x":50,"y":-0.15},{"s":2,"x":50,"y":1.3},{"s":2,"x":75,"y":0.65},{"s":2,"x":100,"y":0.05},{"s":2,"x":125,"y":-0.5},{"s":2,"x":150,"y":-1.1},{"s":3,"x":150,"y":-3.5},{"s":3,"x":155,"y":-3.12},{"s":3,"x":160,"y":-2.83},{"s":3,"x":170,"y":-2.43},{"s":3,"x":180,"y":-2.18},{"s":3,"x":190,"y":-2.03},{"s":3,"x":200,"y":-1.94},{"s":4,"x":200,"y":-2.7},{"s":4,"x":300,"y":-2.2},{"s":5,"x":300,"y":-0.85},{"s":5,"x":310,"y":-1.0},{"s":5,"x":320,"y":-1.2},{"s":5,"x":330,"y":-1.42},{"s":5,"x":340,"y":-1.65},{"s":5,"x":350,"y":-1.9}],
    "p6": [{"x":1,"y":-0.5},{"x":2,"y":-0.9},{"x":3,"y":-0.2},{"x":5,"y":-1.0},{"x":6,"y":-0.6},{"x":8,"y":-0.3},{"x":10,"y":-0.8},{"x":11,"y":0.0},{"x":13,"y":-0.4},{"x":16,"y":0.1},{"x":18,"y":-0.5},{"x":21,"y":0.3},{"x":23,"y":-0.2},{"x":26,"y":-0.6},{"x":28,"y":0.2},{"x":31,"y":-0.3},{"x":33,"y":0.0},{"x":36,"y":-0.4},{"x":38,"y":0.3},{"x":41,"y":1.1},{"x":43,"y":0.6},{"x":46,"y":-0.2},{"x":48,"y":0.2},{"x":49,"y":-0.1},{"x":15,"y":-0.3},{"x":25,"y":0.0},{"x":35,"y":-0.1},{"x":45,"y":0.1},
      {"x":51,"y":-0.9},{"x":52,"y":0.1},{"x":53,"y":-0.4},{"x":56,"y":-1.2},{"x":58,"y":0.5},{"x":61,"y":-0.7},{"x":63,"y":-0.2},{"x":66,"y":-1.1},{"x":68,"y":0.3},{"x":71,"y":-0.5},{"x":73,"y":-1.3},{"x":76,"y":0.0},{"x":78,"y":-0.8},{"x":81,"y":-0.3},{"x":83,"y":-1.5},{"x":86,"y":0.6},{"x":88,"y":-0.6},{"x":91,"y":1.4},{"x":93,"y":-0.4},{"x":96,"y":-1.0},{"x":98,"y":0.1},{"x":101,"y":-0.7},{"x":103,"y":-1.2},{"x":106,"y":-0.2},{"x":108,"y":0.8},{"x":111,"y":-0.9},{"x":113,"y":-0.4},{"x":116,"y":-1.4},{"x":118,"y":0.2},{"x":121,"y":-0.7},{"x":123,"y":-0.3},{"x":126,"y":-1.1},{"x":128,"y":-0.5},{"x":131,"y":0.4},{"x":133,"y":-0.9},{"x":136,"y":-1.7},{"x":138,"y":-0.4},{"x":141,"y":-1.0},{"x":143,"y":-0.2},{"x":146,"y":-1.3},{"x":148,"y":-0.6},{"x":149,"y":-0.9},{"x":55,"y":-0.6},{"x":65,"y":-0.3},{"x":75,"y":-0.6},{"x":85,"y":-0.7},{"x":95,"y":-0.5},{"x":105,"y":-0.8},{"x":115,"y":-0.5},{"x":125,"y":-0.9},{"x":135,"y":-0.6},{"x":145,"y":-0.4},
      {"x":151,"y":3.6},{"x":152,"y":1.6},{"x":153,"y":1.1},{"x":154,"y":1.5},{"x":156,"y":0.6},{"x":157,"y":1.2},{"x":159,"y":0.4},{"x":161,"y":0.9},{"x":163,"y":-0.3},{"x":165,"y":0.2},{"x":166,"y":0.7},{"x":168,"y":-0.5},{"x":171,"y":0.3},{"x":173,"y":-0.1},{"x":176,"y":0.5},{"x":178,"y":-0.4},{"x":181,"y":0.1},{"x":183,"y":0.6},{"x":186,"y":-0.2},{"x":188,"y":0.3},{"x":191,"y":-0.6},{"x":193,"y":0.0},{"x":196,"y":-0.8},{"x":198,"y":0.4},{"x":199,"y":-0.3},{"x":160,"y":0.0},{"x":170,"y":0.0},{"x":180,"y":0.4},{"x":190,"y":0.2},
      {"x":201,"y":3.6},{"x":202,"y":2.6},{"x":203,"y":1.2},{"x":205,"y":2.2},{"x":206,"y":0.6},{"x":208,"y":1.9},{"x":211,"y":0.9},{"x":213,"y":2.6},{"x":216,"y":1.3},{"x":218,"y":0.2},{"x":221,"y":1.8},{"x":223,"y":0.7},{"x":226,"y":-0.2},{"x":228,"y":1.1},{"x":231,"y":-1.3},{"x":233,"y":0.5},{"x":236,"y":1.9},{"x":238,"y":-0.7},{"x":241,"y":1.6},{"x":243,"y":0.8},{"x":246,"y":0.2},{"x":248,"y":2.0},{"x":251,"y":3.5},{"x":253,"y":1.3},{"x":255,"y":2.8},{"x":256,"y":0.3},{"x":258,"y":-0.5},{"x":261,"y":0.8},{"x":263,"y":-1.5},{"x":266,"y":0.4},{"x":268,"y":1.2},{"x":271,"y":-0.3},{"x":273,"y":0.6},{"x":276,"y":-0.9},{"x":278,"y":0.9},{"x":281,"y":0.0},{"x":283,"y":-0.6},{"x":286,"y":1.1},{"x":288,"y":-0.1},{"x":291,"y":0.6},{"x":293,"y":-0.8},{"x":296,"y":0.9},{"x":298,"y":-0.3},{"x":299,"y":0.7},{"x":210,"y":1.5},{"x":215,"y":0.9},{"x":220,"y":1.2},{"x":225,"y":1.5},{"x":230,"y":0.6},{"x":235,"y":1.0},{"x":240,"y":0.4},{"x":245,"y":1.0},{"x":250,"y":0.1},{"x":260,"y":0.3},{"x":265,"y":-0.2},{"x":270,"y":0.2},{"x":275,"y":0.0},{"x":280,"y":-0.4},{"x":285,"y":-0.2},{"x":290,"y":-0.5},{"x":295,"y":-0.5},
      {"x":301,"y":-1.9},{"x":302,"y":-2.4},{"x":303,"y":-2.8},{"x":304,"y":-1.5},{"x":306,"y":-2.1},{"x":308,"y":-1.0},{"x":310,"y":-2.5},{"x":311,"y":-1.4},{"x":313,"y":-0.7},{"x":316,"y":-1.2},{"x":318,"y":-0.4},{"x":320,"y":-1.6},{"x":321,"y":-0.9},{"x":323,"y":-0.2},{"x":326,"y":-1.4},{"x":328,"y":-0.6},{"x":331,"y":-0.1},{"x":333,"y":-0.9},{"x":336,"y":-0.5},{"x":338,"y":0.0},{"x":341,"y":-0.7},{"x":343,"y":-0.3},{"x":346,"y":-1.4},{"x":348,"y":0.4},{"x":349,"y":-0.4},{"x":315,"y":-1.7},{"x":325,"y":-0.8},{"x":335,"y":-0.2},{"x":345,"y":-0.6},
      {"x":4,"y":-0.7},{"x":7,"y":-0.4},{"x":9,"y":-0.6},{"x":12,"y":-0.1},{"x":14,"y":-0.5},{"x":17,"y":-0.2},{"x":19,"y":0.0},{"x":20,"y":-0.4},{"x":22,"y":-0.1},{"x":24,"y":0.2},{"x":27,"y":-0.3},{"x":29,"y":0.0},{"x":30,"y":-0.2},{"x":32,"y":0.3},{"x":34,"y":-0.3},{"x":37,"y":0.1},{"x":39,"y":-0.2},{"x":40,"y":0.4},{"x":42,"y":0.0},{"x":44,"y":-0.3},{"x":47,"y":0.3},{"x":50,"y":0.0},
      {"x":54,"y":-0.2},{"x":57,"y":-0.7},{"x":59,"y":0.0},{"x":62,"y":-0.9},{"x":64,"y":-0.3},{"x":67,"y":-0.6},{"x":69,"y":-1.0},{"x":72,"y":0.2},{"x":74,"y":-0.5},{"x":77,"y":-0.9},{"x":79,"y":-0.2},{"x":82,"y":-1.1},{"x":84,"y":0.1},{"x":87,"y":-0.8},{"x":89,"y":-0.4},{"x":92,"y":-0.7},{"x":94,"y":0.0},{"x":97,"y":-0.9},{"x":99,"y":-0.3},{"x":102,"y":0.3},{"x":104,"y":-0.6},{"x":107,"y":-1.0},{"x":109,"y":-0.4},{"x":112,"y":0.1},{"x":114,"y":-0.8},{"x":117,"y":-0.2},{"x":119,"y":-1.2},{"x":122,"y":-0.5},{"x":124,"y":0.0},{"x":127,"y":-0.7},{"x":129,"y":-1.0},{"x":132,"y":-0.4},{"x":134,"y":-0.8},{"x":137,"y":-0.1},{"x":139,"y":-1.1},{"x":142,"y":-0.5},{"x":144,"y":-0.9},{"x":147,"y":0.0},{"x":150,"y":-0.8},
      {"x":152,"y":2.5},{"x":153,"y":1.9},{"x":155,"y":0.9},{"x":156,"y":1.4},{"x":158,"y":0.2},{"x":160,"y":0.7},{"x":162,"y":0.3},{"x":164,"y":-0.1},{"x":167,"y":0.2},{"x":169,"y":0.6},{"x":172,"y":-0.2},{"x":174,"y":0.3},{"x":177,"y":0.0},{"x":179,"y":0.5},{"x":182,"y":-0.3},{"x":184,"y":0.2},{"x":187,"y":0.6},{"x":189,"y":-0.1},{"x":192,"y":0.4},{"x":194,"y":-0.4},{"x":197,"y":0.1},{"x":200,"y":-0.6},
      {"x":202,"y":1.9},{"x":204,"y":2.9},{"x":207,"y":1.5},{"x":209,"y":2.4},{"x":212,"y":1.2},{"x":214,"y":1.9},{"x":217,"y":0.8},{"x":219,"y":1.6},{"x":222,"y":0.9},{"x":224,"y":2.2},{"x":227,"y":1.0},{"x":229,"y":0.3},{"x":232,"y":1.4},{"x":234,"y":0.7},{"x":237,"y":1.2},{"x":239,"y":0.1},{"x":242,"y":1.1},{"x":244,"y":0.3},{"x":247,"y":0.7},{"x":249,"y":1.5},{"x":252,"y":0.4},{"x":254,"y":0.9},{"x":257,"y":1.6},{"x":259,"y":0.2},{"x":262,"y":0.6},{"x":264,"y":-0.1},{"x":267,"y":0.9},{"x":269,"y":-0.4},{"x":272,"y":0.5},{"x":274,"y":-0.3},{"x":277,"y":0.3},{"x":279,"y":-0.6},{"x":282,"y":0.6},{"x":284,"y":0.1},{"x":287,"y":-0.7},{"x":289,"y":0.3},{"x":292,"y":-0.2},{"x":294,"y":-0.8},{"x":297,"y":0.2},{"x":300,"y":-0.6},
      {"x":302,"y":-1.6},{"x":305,"y":-2.3},{"x":307,"y":-1.3},{"x":309,"y":-1.8},{"x":312,"y":-1.0},{"x":314,"y":-1.5},{"x":317,"y":-0.7},{"x":319,"y":-1.1},{"x":322,"y":-0.5},{"x":324,"y":-1.2},{"x":327,"y":-0.3},{"x":329,"y":-0.9},{"x":332,"y":-0.5},{"x":334,"y":-0.2},{"x":337,"y":-0.8},{"x":339,"y":-0.3},{"x":342,"y":-0.1},{"x":344,"y":-0.5},{"x":347,"y":0.0},{"x":350,"y":-0.2}],
    "f6": [{"s":1,"x":0,"y":-0.7},{"s":1,"x":10,"y":-0.42},{"s":1,"x":20,"y":-0.26},{"s":1,"x":30,"y":-0.17},{"s":1,"x":40,"y":-0.12},{"s":1,"x":50,"y":-0.09},{"s":2,"x":50,"y":-0.4},{"s":2,"x":150,"y":-0.65},{"s":3,"x":150,"y":2.0},{"s":3,"x":152,"y":1.32},{"s":3,"x":154,"y":0.87},{"s":3,"x":156,"y":0.57},{"s":3,"x":158,"y":0.36},{"s":3,"x":162,"y":0.14},{"s":3,"x":168,"y":0.0},{"s":3,"x":180,"y":-0.05},{"s":3,"x":200,"y":-0.05},{"s":4,"x":200,"y":1.6},{"s":4,"x":250,"y":0.55},{"s":4,"x":300,"y":-0.4},{"s":5,"x":300,"y":-2.1},{"s":5,"x":305,"y":-1.64},{"s":5,"x":310,"y":-1.29},{"s":5,"x":320,"y":-0.83},{"s":5,"x":330,"y":-0.56},{"s":5,"x":340,"y":-0.41},{"s":5,"x":350,"y":-0.32}],
    "p7": [{"x":1,"y":0.3},{"x":2,"y":-0.2},{"x":3,"y":-0.6},{"x":5,"y":0.0},{"x":6,"y":-0.8},{"x":8,"y":-0.3},{"x":11,"y":-0.6},{"x":13,"y":0.4},{"x":16,"y":-1.0},{"x":18,"y":-0.2},{"x":21,"y":-0.7},{"x":23,"y":-0.1},{"x":26,"y":-0.5},{"x":28,"y":-0.9},{"x":31,"y":-0.2},{"x":33,"y":-0.6},{"x":36,"y":0.0},{"x":38,"y":-0.4},{"x":41,"y":-0.8},{"x":43,"y":1.3},{"x":45,"y":0.4},{"x":46,"y":-0.5},{"x":48,"y":-1.3},{"x":49,"y":-0.9},{"x":10,"y":-0.4},{"x":15,"y":-0.2},{"x":25,"y":-0.3},{"x":35,"y":-0.7},{"x":40,"y":-0.1},
      {"x":51,"y":3.6},{"x":52,"y":2.1},{"x":53,"y":1.1},{"x":54,"y":0.1},{"x":56,"y":1.6},{"x":58,"y":0.6},{"x":60,"y":2.0},{"x":61,"y":1.3},{"x":63,"y":3.4},{"x":65,"y":2.9},{"x":66,"y":0.7},{"x":68,"y":2.4},{"x":70,"y":1.8},{"x":71,"y":0.5},{"x":73,"y":1.4},{"x":76,"y":2.2},{"x":78,"y":0.2},{"x":81,"y":1.0},{"x":83,"y":-1.3},{"x":86,"y":0.4},{"x":88,"y":1.3},{"x":91,"y":-0.1},{"x":93,"y":0.7},{"x":96,"y":1.8},{"x":98,"y":-0.5},{"x":101,"y":0.2},{"x":103,"y":0.9},{"x":106,"y":-2.1},{"x":108,"y":0.6},{"x":111,"y":1.2},{"x":113,"y":-0.3},{"x":116,"y":0.3},{"x":118,"y":-0.3},{"x":121,"y":0.8},{"x":123,"y":-0.6},{"x":126,"y":0.4},{"x":128,"y":1.3},{"x":131,"y":-0.2},{"x":133,"y":0.5},{"x":136,"y":-0.9},{"x":138,"y":1.4},{"x":141,"y":0.1},{"x":143,"y":-0.4},{"x":146,"y":0.8},{"x":148,"y":-1.0},{"x":149,"y":0.5},{"x":55,"y":1.9},{"x":62,"y":2.5},{"x":64,"y":1.5},{"x":67,"y":1.2},{"x":75,"y":0.9},{"x":80,"y":0.3},{"x":85,"y":-0.2},{"x":90,"y":0.9},{"x":95,"y":0.0},{"x":105,"y":0.5},{"x":110,"y":-0.1},{"x":115,"y":0.7},{"x":120,"y":0.1},{"x":125,"y":-0.4},{"x":130,"y":0.6},{"x":135,"y":0.2},{"x":140,"y":-0.6},{"x":145,"y":0.3},
      {"x":151,"y":-2.4},{"x":152,"y":-3.3},{"x":153,"y":-4.1},{"x":154,"y":-2.9},{"x":156,"y":-3.5},{"x":158,"y":-2.5},{"x":160,"y":-1.6},{"x":161,"y":-3.0},{"x":163,"y":-2.2},{"x":165,"y":-2.7},{"x":166,"y":-1.9},{"x":168,"y":-3.3},{"x":171,"y":-2.4},{"x":173,"y":-1.7},{"x":176,"y":-2.8},{"x":178,"y":-3.3},{"x":181,"y":-2.0},{"x":183,"y":-1.5},{"x":186,"y":-2.4},{"x":188,"y":-1.8},{"x":191,"y":-2.2},{"x":193,"y":-1.3},{"x":195,"y":-0.3},{"x":196,"y":-1.9},{"x":198,"y":-0.8},{"x":199,"y":-1.2},{"x":155,"y":-2.6},{"x":170,"y":-2.5},{"x":185,"y":-2.2},{"x":190,"y":-1.6},
      {"x":201,"y":0.9},{"x":202,"y":-1.6},{"x":203,"y":-1.0},{"x":206,"y":-1.9},{"x":208,"y":-0.8},{"x":211,"y":-1.4},{"x":213,"y":-2.0},{"x":216,"y":-1.1},{"x":218,"y":-0.6},{"x":221,"y":-1.5},{"x":223,"y":-1.9},{"x":226,"y":-0.9},{"x":228,"y":-1.3},{"x":231,"y":0.0},{"x":233,"y":-1.7},{"x":236,"y":-1.1},{"x":238,"y":-2.2},{"x":241,"y":-0.7},{"x":243,"y":-1.4},{"x":246,"y":-1.0},{"x":248,"y":-2.1},{"x":251,"y":-1.5},{"x":253,"y":-0.8},{"x":256,"y":-1.7},{"x":258,"y":-1.2},{"x":261,"y":-2.4},{"x":263,"y":-1.0},{"x":266,"y":-1.6},{"x":268,"y":-0.9},{"x":271,"y":-2.0},{"x":273,"y":-1.3},{"x":276,"y":-1.8},{"x":278,"y":-1.1},{"x":281,"y":-2.3},{"x":283,"y":-1.5},{"x":286,"y":-0.6},{"x":288,"y":-1.9},{"x":291,"y":-1.2},{"x":293,"y":-2.2},{"x":296,"y":-1.4},{"x":298,"y":-0.8},{"x":299,"y":-2.0},{"x":205,"y":-1.2},{"x":210,"y":-1.1},{"x":215,"y":-1.5},{"x":220,"y":-1.2},{"x":225,"y":-1.4},{"x":230,"y":-1.6},{"x":235,"y":-1.3},{"x":240,"y":-1.5},{"x":245,"y":-1.8},{"x":250,"y":-1.2},{"x":255,"y":-1.4},{"x":260,"y":-1.7},{"x":265,"y":-1.3},{"x":270,"y":-1.5},{"x":275,"y":-1.4},{"x":280,"y":-1.7},{"x":285,"y":-1.6},{"x":290,"y":-1.5},{"x":295,"y":-1.7},
      {"x":301,"y":0.8},{"x":302,"y":0.4},{"x":303,"y":-0.2},{"x":306,"y":-0.8},{"x":308,"y":0.1},{"x":311,"y":-0.5},{"x":313,"y":-1.0},{"x":316,"y":-0.2},{"x":318,"y":0.2},{"x":321,"y":-0.7},{"x":323,"y":-1.2},{"x":326,"y":0.8},{"x":328,"y":-0.4},{"x":331,"y":-0.9},{"x":333,"y":-1.9},{"x":336,"y":-0.3},{"x":338,"y":-1.1},{"x":341,"y":0.4},{"x":343,"y":-0.6},{"x":346,"y":-1.5},{"x":348,"y":0.3},{"x":349,"y":-0.5},{"x":305,"y":-0.4},{"x":310,"y":-0.3},{"x":315,"y":-0.7},{"x":320,"y":-0.2},{"x":325,"y":-0.5},{"x":330,"y":-0.3},{"x":335,"y":-0.8},{"x":340,"y":-1.3},{"x":345,"y":-0.4},
      {"x":4,"y":-0.3},{"x":7,"y":-0.5},{"x":9,"y":0.1},{"x":12,"y":-0.3},{"x":14,"y":-0.7},{"x":17,"y":-0.4},{"x":19,"y":0.0},{"x":20,"y":-0.6},{"x":22,"y":-0.3},{"x":24,"y":-0.8},{"x":27,"y":0.0},{"x":29,"y":-0.4},{"x":30,"y":-0.7},{"x":32,"y":-0.1},{"x":34,"y":-0.5},{"x":37,"y":-0.3},{"x":39,"y":-0.8},{"x":42,"y":-0.2},{"x":44,"y":0.1},{"x":47,"y":-0.6},{"x":50,"y":-0.4},
      {"x":57,"y":2.2},{"x":59,"y":1.2},{"x":62,"y":1.8},{"x":64,"y":2.6},{"x":67,"y":1.6},{"x":69,"y":1.0},{"x":72,"y":2.0},{"x":74,"y":0.8},{"x":77,"y":1.5},{"x":79,"y":0.6},{"x":82,"y":0.3},{"x":84,"y":1.1},{"x":87,"y":0.0},{"x":89,"y":0.7},{"x":92,"y":0.4},{"x":94,"y":1.2},{"x":97,"y":-0.3},{"x":99,"y":0.8},{"x":102,"y":0.3},{"x":104,"y":-0.5},{"x":107,"y":0.9},{"x":109,"y":0.1},{"x":112,"y":0.5},{"x":114,"y":-0.2},{"x":117,"y":1.0},{"x":119,"y":0.4},{"x":122,"y":-0.5},{"x":124,"y":0.6},{"x":127,"y":-0.1},{"x":129,"y":0.8},{"x":132,"y":0.3},{"x":134,"y":-0.5},{"x":137,"y":0.6},{"x":139,"y":-0.2},{"x":142,"y":1.0},{"x":144,"y":0.2},{"x":147,"y":-0.6},{"x":150,"y":0.4},
      {"x":152,"y":-2.9},{"x":154,"y":-3.6},{"x":157,"y":-2.7},{"x":159,"y":-3.1},{"x":162,"y":-2.5},{"x":164,"y":-3.2},{"x":167,"y":-2.2},{"x":169,"y":-2.8},{"x":172,"y":-1.9},{"x":174,"y":-2.6},{"x":175,"y":-3.0},{"x":177,"y":-1.6},{"x":179,"y":-2.3},{"x":180,"y":-1.9},{"x":182,"y":-2.6},{"x":184,"y":-1.7},{"x":187,"y":-2.0},{"x":189,"y":-1.4},{"x":192,"y":-1.8},{"x":194,"y":-2.3},{"x":197,"y":-1.2},{"x":200,"y":-1.6},
      {"x":204,"y":-1.5},{"x":207,"y":-1.1},{"x":209,"y":-1.8},{"x":212,"y":-0.9},{"x":214,"y":-1.6},{"x":217,"y":-1.3},{"x":219,"y":-0.7},{"x":222,"y":-1.8},{"x":224,"y":-1.1},{"x":227,"y":-1.5},{"x":229,"y":-2.0},{"x":232,"y":-1.0},{"x":234,"y":-1.6},{"x":237,"y":-0.8},{"x":239,"y":-1.4},{"x":242,"y":-1.9},{"x":244,"y":-1.1},{"x":247,"y":-1.6},{"x":249,"y":-0.9},{"x":252,"y":-1.3},{"x":254,"y":-1.9},{"x":257,"y":-1.1},{"x":259,"y":-1.6},{"x":262,"y":-1.3},{"x":264,"y":-2.0},{"x":267,"y":-1.2},{"x":269,"y":-1.7},{"x":272,"y":-1.0},{"x":274,"y":-1.6},{"x":277,"y":-2.1},{"x":279,"y":-1.4},{"x":282,"y":-1.0},{"x":284,"y":-1.8},{"x":287,"y":-1.3},{"x":289,"y":-2.0},{"x":292,"y":-1.6},{"x":294,"y":-1.1},{"x":297,"y":-1.9},{"x":300,"y":-1.4},
      {"x":304,"y":0.2},{"x":307,"y":-0.5},{"x":309,"y":0.0},{"x":312,"y":-0.8},{"x":314,"y":-0.3},{"x":317,"y":0.3},{"x":319,"y":-0.9},{"x":322,"y":-0.1},{"x":324,"y":-0.6},{"x":327,"y":0.1},{"x":329,"y":-1.0},{"x":332,"y":-0.4},{"x":334,"y":0.2},{"x":337,"y":-0.7},{"x":339,"y":-0.2},{"x":342,"y":-1.1},{"x":344,"y":-0.4},{"x":347,"y":0.2},{"x":350,"y":-0.8}],
    "f7": [{"s":1,"x":0,"y":-0.35},{"s":1,"x":50,"y":-0.35},{"s":2,"x":50,"y":1.4},{"s":2,"x":60,"y":1.02},{"s":2,"x":70,"y":0.74},{"s":2,"x":80,"y":0.55},{"s":2,"x":100,"y":0.31},{"s":2,"x":120,"y":0.18},{"s":2,"x":150,"y":0.1},{"s":3,"x":150,"y":-2.8},{"s":3,"x":160,"y":-2.37},{"s":3,"x":170,"y":-2.07},{"s":3,"x":180,"y":-1.85},{"s":3,"x":200,"y":-1.58},{"s":4,"x":200,"y":-1.2},{"s":4,"x":300,"y":-1.6},{"s":5,"x":300,"y":-0.3},{"s":5,"x":350,"y":-0.6}],
    "p8": [{"x":1,"y":0.1},{"x":2,"y":0.7},{"x":3,"y":0.3},{"x":5,"y":-0.4},{"x":6,"y":-0.9},{"x":8,"y":-1.3},{"x":10,"y":-0.6},{"x":11,"y":-0.2},{"x":13,"y":-0.8},{"x":16,"y":0.0},{"x":18,"y":0.2},{"x":21,"y":-0.7},{"x":23,"y":0.6},{"x":26,"y":-0.1},{"x":28,"y":0.1},{"x":31,"y":-0.5},{"x":33,"y":0.4},{"x":36,"y":-0.3},{"x":38,"y":0.8},{"x":41,"y":-1.1},{"x":43,"y":-0.4},{"x":45,"y":0.2},{"x":46,"y":-0.7},{"x":48,"y":-0.1},{"x":49,"y":-0.5},{"x":15,"y":-0.3},{"x":25,"y":0.3},{"x":35,"y":0.0},
      {"x":51,"y":3.3},{"x":52,"y":2.6},{"x":53,"y":2.2},{"x":54,"y":1.4},{"x":56,"y":1.9},{"x":58,"y":0.8},{"x":61,"y":1.6},{"x":63,"y":2.4},{"x":66,"y":0.9},{"x":68,"y":1.3},{"x":71,"y":2.7},{"x":73,"y":0.6},{"x":76,"y":1.0},{"x":78,"y":1.6},{"x":81,"y":0.2},{"x":83,"y":1.1},{"x":86,"y":-0.1},{"x":88,"y":0.7},{"x":91,"y":1.4},{"x":93,"y":0.3},{"x":96,"y":1.9},{"x":98,"y":0.5},{"x":101,"y":1.0},{"x":103,"y":-0.4},{"x":106,"y":0.8},{"x":108,"y":1.3},{"x":111,"y":0.2},{"x":113,"y":0.9},{"x":116,"y":1.6},{"x":118,"y":0.4},{"x":121,"y":1.1},{"x":123,"y":-0.1},{"x":126,"y":0.7},{"x":128,"y":1.8},{"x":131,"y":0.3},{"x":133,"y":1.2},{"x":136,"y":0.6},{"x":138,"y":1.6},{"x":141,"y":0.0},{"x":143,"y":1.0},{"x":146,"y":-0.3},{"x":148,"y":1.4},{"x":149,"y":0.6},{"x":55,"y":1.2},{"x":60,"y":1.5},{"x":65,"y":1.2},{"x":70,"y":1.0},{"x":75,"y":1.3},{"x":80,"y":0.9},{"x":85,"y":1.2},{"x":90,"y":0.8},{"x":95,"y":1.0},{"x":100,"y":0.7},{"x":105,"y":1.1},{"x":110,"y":0.6},{"x":115,"y":0.9},{"x":120,"y":0.5},{"x":125,"y":0.9},{"x":130,"y":0.8},{"x":135,"y":1.0},{"x":140,"y":0.7},{"x":145,"y":0.9},
      {"x":151,"y":5.8},{"x":152,"y":5.2},{"x":153,"y":4.6},{"x":155,"y":5.6},{"x":156,"y":4.3},{"x":158,"y":5.0},{"x":161,"y":4.4},{"x":163,"y":3.7},{"x":166,"y":4.6},{"x":168,"y":3.9},{"x":171,"y":4.2},{"x":173,"y":3.4},{"x":176,"y":4.0},{"x":178,"y":2.9},{"x":181,"y":3.6},{"x":183,"y":4.7},{"x":186,"y":3.2},{"x":188,"y":2.3},{"x":191,"y":3.8},{"x":193,"y":3.0},{"x":196,"y":3.5},{"x":198,"y":2.8},{"x":199,"y":3.9},{"x":160,"y":4.7},{"x":170,"y":4.5},{"x":180,"y":3.9},{"x":190,"y":3.4},{"x":195,"y":3.1},
      {"x":201,"y":8.0},{"x":202,"y":6.3},{"x":203,"y":5.4},{"x":205,"y":7.0},{"x":206,"y":6.8},{"x":208,"y":5.9},{"x":211,"y":4.1},{"x":213,"y":7.4},{"x":216,"y":6.0},{"x":218,"y":4.9},{"x":221,"y":6.5},{"x":223,"y":5.5},{"x":226,"y":7.0},{"x":228,"y":5.0},{"x":231,"y":4.5},{"x":233,"y":6.1},{"x":236,"y":2.7},{"x":238,"y":5.5},{"x":241,"y":3.3},{"x":243,"y":4.8},{"x":246,"y":5.8},{"x":248,"y":4.2},{"x":251,"y":7.6},{"x":253,"y":6.4},{"x":255,"y":4.6},{"x":256,"y":3.7},{"x":258,"y":2.5},{"x":260,"y":3.0},{"x":261,"y":1.6},{"x":263,"y":4.1},{"x":266,"y":4.9},{"x":268,"y":3.0},{"x":271,"y":4.4},{"x":273,"y":2.9},{"x":276,"y":3.9},{"x":278,"y":5.3},{"x":281,"y":3.4},{"x":283,"y":2.7},{"x":286,"y":4.5},{"x":288,"y":3.2},{"x":291,"y":2.6},{"x":293,"y":4.8},{"x":296,"y":3.6},{"x":298,"y":2.8},{"x":299,"y":4.6},{"x":210,"y":6.2},{"x":215,"y":5.2},{"x":220,"y":5.6},{"x":225,"y":5.9},{"x":230,"y":5.3},{"x":235,"y":4.8},{"x":240,"y":4.6},{"x":245,"y":4.5},{"x":250,"y":4.2},{"x":265,"y":3.6},{"x":270,"y":3.7},{"x":275,"y":3.4},{"x":280,"y":3.8},{"x":285,"y":3.3},{"x":290,"y":3.5},{"x":295,"y":3.1},
      {"x":301,"y":2.9},{"x":302,"y":2.4},{"x":303,"y":3.6},{"x":306,"y":2.6},{"x":308,"y":3.9},{"x":311,"y":3.1},{"x":313,"y":2.3},{"x":316,"y":3.7},{"x":318,"y":3.0},{"x":321,"y":4.2},{"x":323,"y":3.3},{"x":326,"y":2.7},{"x":328,"y":3.9},{"x":331,"y":3.4},{"x":333,"y":4.4},{"x":336,"y":3.0},{"x":338,"y":3.7},{"x":341,"y":2.6},{"x":343,"y":4.5},{"x":346,"y":3.2},{"x":348,"y":2.1},{"x":349,"y":3.9},{"x":305,"y":3.3},{"x":310,"y":3.5},{"x":315,"y":3.0},{"x":320,"y":3.4},{"x":325,"y":3.6},{"x":330,"y":3.2},{"x":335,"y":3.8},{"x":340,"y":3.3},{"x":345,"y":3.7},
      {"x":4,"y":0.2},{"x":7,"y":-0.3},{"x":9,"y":-0.8},{"x":12,"y":0.1},{"x":14,"y":-0.5},{"x":17,"y":-0.2},{"x":19,"y":0.3},{"x":20,"y":-0.4},{"x":22,"y":0.0},{"x":24,"y":0.4},{"x":27,"y":-0.3},{"x":29,"y":0.2},{"x":30,"y":-0.6},{"x":32,"y":0.0},{"x":34,"y":0.5},{"x":37,"y":-0.2},{"x":39,"y":0.3},{"x":40,"y":-0.5},{"x":42,"y":0.1},{"x":44,"y":-0.3},{"x":47,"y":0.4},{"x":50,"y":-0.6},
      {"x":52,"y":1.8},{"x":55,"y":2.1},{"x":57,"y":1.3},{"x":59,"y":1.9},{"x":62,"y":1.0},{"x":64,"y":1.7},{"x":67,"y":1.4},{"x":69,"y":0.7},{"x":72,"y":1.5},{"x":74,"y":1.2},{"x":77,"y":0.5},{"x":79,"y":1.1},{"x":82,"y":1.5},{"x":84,"y":0.6},{"x":87,"y":1.0},{"x":89,"y":1.6},{"x":92,"y":0.5},{"x":94,"y":1.1},{"x":97,"y":0.3},{"x":99,"y":1.2},{"x":102,"y":0.6},{"x":104,"y":1.4},{"x":107,"y":0.4},{"x":109,"y":0.9},{"x":112,"y":1.3},{"x":114,"y":0.5},{"x":117,"y":0.9},{"x":119,"y":0.2},{"x":122,"y":1.0},{"x":124,"y":0.6},{"x":127,"y":1.4},{"x":129,"y":0.4},{"x":132,"y":0.8},{"x":134,"y":1.5},{"x":137,"y":0.2},{"x":139,"y":0.9},{"x":142,"y":1.3},{"x":144,"y":0.4},{"x":147,"y":0.8},{"x":150,"y":1.1},
      {"x":152,"y":4.9},{"x":154,"y":5.3},{"x":157,"y":4.8},{"x":159,"y":4.2},{"x":162,"y":5.1},{"x":164,"y":4.0},{"x":167,"y":4.3},{"x":169,"y":3.6},{"x":172,"y":4.8},{"x":174,"y":3.9},{"x":175,"y":4.4},{"x":177,"y":3.5},{"x":179,"y":4.1},{"x":182,"y":3.3},{"x":184,"y":3.9},{"x":185,"y":2.7},{"x":187,"y":3.6},{"x":189,"y":3.1},{"x":192,"y":3.4},{"x":194,"y":2.7},{"x":197,"y":3.2},{"x":200,"y":3.0},
      {"x":202,"y":7.2},{"x":204,"y":5.9},{"x":207,"y":6.4},{"x":209,"y":5.5},{"x":212,"y":6.8},{"x":214,"y":5.7},{"x":217,"y":6.3},{"x":219,"y":5.4},{"x":222,"y":4.6},{"x":224,"y":6.2},{"x":227,"y":5.2},{"x":229,"y":5.8},{"x":232,"y":4.9},{"x":234,"y":5.6},{"x":237,"y":4.4},{"x":239,"y":5.2},{"x":242,"y":4.4},{"x":244,"y":5.0},{"x":247,"y":4.0},{"x":249,"y":4.7},{"x":252,"y":4.4},{"x":254,"y":3.8},{"x":257,"y":2.9},{"x":259,"y":3.3},{"x":262,"y":2.3},{"x":264,"y":4.4},{"x":267,"y":3.8},{"x":269,"y":4.2},{"x":272,"y":3.5},{"x":274,"y":4.0},{"x":277,"y":3.1},{"x":279,"y":4.3},{"x":282,"y":3.7},{"x":284,"y":3.1},{"x":287,"y":2.8},{"x":289,"y":3.9},{"x":292,"y":3.5},{"x":294,"y":2.9},{"x":297,"y":4.2},{"x":300,"y":3.3},
      {"x":304,"y":3.0},{"x":307,"y":3.6},{"x":309,"y":2.8},{"x":312,"y":3.4},{"x":314,"y":2.7},{"x":317,"y":3.2},{"x":319,"y":3.8},{"x":322,"y":3.0},{"x":324,"y":2.8},{"x":327,"y":3.5},{"x":329,"y":3.1},{"x":332,"y":3.7},{"x":334,"y":2.9},{"x":337,"y":3.4},{"x":339,"y":4.1},{"x":342,"y":3.2},{"x":344,"y":3.8},{"x":347,"y":3.0},{"x":350,"y":3.6}],
    "f8": [{"s":1,"x":0,"y":-0.05},{"s":1,"x":50,"y":-0.1},{"s":2,"x":50,"y":1.5},{"s":2,"x":75,"y":1.14},{"s":2,"x":100,"y":0.91},{"s":2,"x":125,"y":0.75},{"s":2,"x":150,"y":0.65},{"s":3,"x":150,"y":5.0},{"s":3,"x":175,"y":4.1},{"s":3,"x":200,"y":3.3},{"s":4,"x":200,"y":6.5},{"s":4,"x":225,"y":5.28},{"s":4,"x":250,"y":4.37},{"s":4,"x":275,"y":3.69},{"s":4,"x":300,"y":3.18},{"s":5,"x":300,"y":3.1},{"s":5,"x":325,"y":3.3},{"s":5,"x":350,"y":3.5}]
  },
  "concat": [
    {
      "width": 994, "height": 555,
      "title": {"text": "Typically Developing", "orient": "left", "anchor": "middle", "frame": "group", "fontSize": 68, "offset": 76, "dx": 32},
      "layer": [
        {"data": {"name": "div"}, "mark": {"type": "rule", "color": "black", "strokeWidth": 2},
         "encoding": {"x": {"field": "x", "type": "quantitative", "scale": {"domain": [-4.7, 355.4], "nice": false, "zero": false},
           "axis": {"orient": "top", "labels": false, "ticks": false, "title": "Dominant Leg", "titleFontSize": 60, "titlePadding": 44}}}},
        {"data": {"name": "p1"}, "mark": {"type": "point", "shape": "M-1,-1L1,1M-1,1L1,-1", "filled": false, "stroke": "#0000ff", "strokeWidth": 5, "size": 250, "opacity": 1},
         "encoding": {"x": {"field": "x", "type": "quantitative", "axis": {"orient": "top", "labels": false, "ticks": false, "title": "Dominant Leg", "titleFontSize": 60, "titlePadding": 44}},
           "y": {"field": "y", "type": "quantitative", "scale": {"domain": [-8, 8], "nice": false},
             "axis": {"values": [-8, -4, 0, 4, 8], "labelExpr": "datum.value < 0 ? '-' + abs(datum.value) : '' + datum.value", "tickSize": -10, "labelFontSize": 52, "labelPadding": 12, "title": "ΔKnee (deg)", "titleFontSize": 56, "titlePadding": 24}}}},
        {"data": {"name": "f1"}, "mark": {"type": "line", "color": "black", "strokeWidth": 6},
         "encoding": {"x": {"field": "x", "type": "quantitative", "axis": {"orient": "top", "labels": false, "ticks": false, "title": "Dominant Leg", "titleFontSize": 60, "titlePadding": 44}},
           "y": {"field": "y", "type": "quantitative", "axis": {"orient": "right", "values": [-8, -4, 0, 4, 8], "tickSize": -10, "labels": false, "title": null}},
           "detail": {"field": "s", "type": "nominal"}}}
      ],
      "resolve": {"axis": {"y": "independent"}}
    },
    {
      "width": 1004, "height": 555,
      "layer": [
        {"data": {"name": "div"}, "mark": {"type": "rule", "color": "black", "strokeWidth": 2},
         "encoding": {"x": {"field": "x", "type": "quantitative", "scale": {"domain": [-5.7, 354.7], "nice": false, "zero": false},
           "axis": {"orient": "top", "labels": false, "ticks": false, "title": "Nondominant Leg", "titleFontSize": 60, "titlePadding": 44}}}},
        {"data": {"name": "p2"}, "mark": {"type": "point", "shape": "M-1,-1L1,1M-1,1L1,-1", "filled": false, "stroke": "#0000ff", "strokeWidth": 5, "size": 250, "opacity": 1},
         "encoding": {"x": {"field": "x", "type": "quantitative", "axis": {"orient": "top", "labels": false, "ticks": false, "title": "Nondominant Leg", "titleFontSize": 60, "titlePadding": 44}},
           "y": {"field": "y", "type": "quantitative", "scale": {"domain": [-8, 8], "nice": false},
             "axis": {"values": [-8, -4, 0, 4, 8], "tickSize": -10, "labels": false, "title": null}}}},
        {"data": {"name": "f2"}, "mark": {"type": "line", "color": "black", "strokeWidth": 6},
         "encoding": {"x": {"field": "x", "type": "quantitative", "axis": {"orient": "top", "labels": false, "ticks": false, "title": "Nondominant Leg", "titleFontSize": 60, "titlePadding": 44}},
           "y": {"field": "y", "type": "quantitative", "axis": {"orient": "right", "values": [-8, -4, 0, 4, 8], "tickSize": -10, "labels": false, "title": null}},
           "detail": {"field": "s", "type": "nominal"}}}
      ],
      "resolve": {"axis": {"y": "independent"}}
    },
    {
      "width": 994, "height": 603,
      "title": {"text": "Cerebral Palsy", "orient": "left", "anchor": "middle", "frame": "group", "fontSize": 68, "offset": 76, "dx": 12},
      "layer": [
        {"data": {"name": "div"}, "mark": {"type": "rule", "color": "black", "strokeWidth": 2},
         "encoding": {"x": {"field": "x", "type": "quantitative", "scale": {"domain": [-4.7, 355.4], "nice": false, "zero": false}, "axis": null}}},
        {"data": {"name": "p3"}, "mark": {"type": "circle", "size": 330, "color": "#ff0000", "stroke": "#3a0000", "strokeWidth": 1.5, "opacity": 1},
         "encoding": {"x": {"field": "x", "type": "quantitative", "axis": null},
           "y": {"field": "y", "type": "quantitative", "scale": {"domain": [-8, 8], "nice": false},
             "axis": {"values": [-8, -4, 0, 4, 8], "labelExpr": "datum.value < 0 ? '-' + abs(datum.value) : '' + datum.value", "tickSize": -10, "labelFontSize": 52, "labelPadding": 12, "title": "ΔKnee (deg)", "titleFontSize": 56, "titlePadding": 24}}}},
        {"data": {"name": "f3"}, "mark": {"type": "line", "color": "black", "strokeWidth": 6},
         "encoding": {"x": {"field": "x", "type": "quantitative", "axis": null},
           "y": {"field": "y", "type": "quantitative", "axis": {"orient": "right", "values": [-8, -4, 0, 4, 8], "tickSize": -10, "labels": false, "title": null}},
           "detail": {"field": "s", "type": "nominal"}}}
      ],
      "resolve": {"axis": {"y": "independent"}}
    },
    {
      "width": 1004, "height": 603,
      "layer": [
        {"data": {"name": "div"}, "mark": {"type": "rule", "color": "black", "strokeWidth": 2},
         "encoding": {"x": {"field": "x", "type": "quantitative", "scale": {"domain": [-5.7, 354.7], "nice": false, "zero": false}, "axis": null}}},
        {"data": {"name": "p4"}, "mark": {"type": "circle", "size": 330, "color": "#ff0000", "stroke": "#3a0000", "strokeWidth": 1.5, "opacity": 1},
         "encoding": {"x": {"field": "x", "type": "quantitative", "axis": null},
           "y": {"field": "y", "type": "quantitative", "scale": {"domain": [-8, 8], "nice": false},
             "axis": {"values": [-8, -4, 0, 4, 8], "tickSize": -10, "labels": false, "title": null}}}},
        {"data": {"name": "f4"}, "mark": {"type": "line", "color": "black", "strokeWidth": 6},
         "encoding": {"x": {"field": "x", "type": "quantitative", "axis": null},
           "y": {"field": "y", "type": "quantitative", "axis": {"orient": "right", "values": [-8, -4, 0, 4, 8], "tickSize": -10, "labels": false, "title": null}},
           "detail": {"field": "s", "type": "nominal"}}}
      ],
      "resolve": {"axis": {"y": "independent"}}
    },
    {
      "width": 994, "height": 603,
      "title": {"text": "Typically Developing", "orient": "left", "anchor": "middle", "frame": "group", "fontSize": 68, "offset": 76},
      "layer": [
        {"data": {"name": "div"}, "mark": {"type": "rule", "color": "black", "strokeWidth": 2},
         "encoding": {"x": {"field": "x", "type": "quantitative", "scale": {"domain": [-4.7, 355.4], "nice": false, "zero": false}, "axis": null}}},
        {"data": {"name": "p5"}, "mark": {"type": "point", "shape": "M-1,-1L1,1M-1,1L1,-1", "filled": false, "stroke": "#0000ff", "strokeWidth": 5, "size": 250, "opacity": 1},
         "encoding": {"x": {"field": "x", "type": "quantitative", "axis": null},
           "y": {"field": "y", "type": "quantitative", "scale": {"domain": [-8, 8], "nice": false},
             "axis": {"values": [-8, -4, 0, 4, 8], "labelExpr": "datum.value < 0 ? '-' + abs(datum.value) : '' + datum.value", "tickSize": -10, "labelFontSize": 52, "labelPadding": 12, "title": "ΔHip (deg)", "titleFontSize": 56, "titlePadding": 24}}}},
        {"data": {"name": "f5"}, "mark": {"type": "line", "color": "black", "strokeWidth": 6},
         "encoding": {"x": {"field": "x", "type": "quantitative", "axis": null},
           "y": {"field": "y", "type": "quantitative", "axis": {"orient": "right", "values": [-8, -4, 0, 4, 8], "tickSize": -10, "labels": false, "title": null}},
           "detail": {"field": "s", "type": "nominal"}}}
      ],
      "resolve": {"axis": {"y": "independent"}}
    },
    {
      "width": 1004, "height": 603,
      "layer": [
        {"data": {"name": "div"}, "mark": {"type": "rule", "color": "black", "strokeWidth": 2},
         "encoding": {"x": {"field": "x", "type": "quantitative", "scale": {"domain": [-5.7, 354.7], "nice": false, "zero": false}, "axis": null}}},
        {"data": {"name": "p6"}, "mark": {"type": "point", "shape": "M-1,-1L1,1M-1,1L1,-1", "filled": false, "stroke": "#0000ff", "strokeWidth": 5, "size": 250, "opacity": 1},
         "encoding": {"x": {"field": "x", "type": "quantitative", "axis": null},
           "y": {"field": "y", "type": "quantitative", "scale": {"domain": [-8, 8], "nice": false},
             "axis": {"values": [-8, -4, 0, 4, 8], "tickSize": -10, "labels": false, "title": null}}}},
        {"data": {"name": "f6"}, "mark": {"type": "line", "color": "black", "strokeWidth": 6},
         "encoding": {"x": {"field": "x", "type": "quantitative", "axis": null},
           "y": {"field": "y", "type": "quantitative", "axis": {"orient": "right", "values": [-8, -4, 0, 4, 8], "tickSize": -10, "labels": false, "title": null}},
           "detail": {"field": "s", "type": "nominal"}}}
      ],
      "resolve": {"axis": {"y": "independent"}}
    },
    {
      "width": 994, "height": 603,
      "title": {"text": "Cerebral Palsy", "orient": "left", "anchor": "middle", "frame": "group", "fontSize": 68, "offset": 76},
      "layer": [
        {"data": {"name": "div"}, "mark": {"type": "rule", "color": "black", "strokeWidth": 2},
         "encoding": {"x": {"field": "x", "type": "quantitative", "scale": {"domain": [-4.7, 355.4], "nice": false, "zero": false},
           "axis": {"values": [25, 100, 175, 250, 325], "labelExpr": "datum.value == 25 ? 'Baseline' : datum.value == 100 ? ['Nondominant', 'weighted'] : datum.value == 250 ? ['Dominant', 'weighted'] : 'Unweighted'", "labelAngle": -53, "labelAlign": "right", "labelBaseline": "middle", "labelFontSize": 52, "labelLineHeight": 60, "labelPadding": 22, "labelLimit": 1000, "labelOverlap": false, "labelFlush": false, "ticks": false, "title": null}}}},
        {"data": {"name": "p7"}, "mark": {"type": "circle", "size": 330, "color": "#ff0000", "stroke": "#3a0000", "strokeWidth": 1.5, "opacity": 1},
         "encoding": {"x": {"field": "x", "type": "quantitative", "axis": {"values": [25, 100, 175, 250, 325], "labelExpr": "datum.value == 25 ? 'Baseline' : datum.value == 100 ? ['Nondominant', 'weighted'] : datum.value == 250 ? ['Dominant', 'weighted'] : 'Unweighted'", "labelAngle": -53, "labelAlign": "right", "labelBaseline": "middle", "labelFontSize": 52, "labelLineHeight": 60, "labelPadding": 22, "labelLimit": 1000, "labelOverlap": false, "labelFlush": false, "ticks": false, "title": null}},
           "y": {"field": "y", "type": "quantitative", "scale": {"domain": [-8, 8], "nice": false},
             "axis": {"values": [-8, -4, 0, 4, 8], "labelExpr": "datum.value < 0 ? '-' + abs(datum.value) : '' + datum.value", "tickSize": -10, "labelFontSize": 52, "labelPadding": 12, "title": "ΔHip (deg)", "titleFontSize": 56, "titlePadding": 24}}}},
        {"data": {"name": "f7"}, "mark": {"type": "line", "color": "black", "strokeWidth": 6},
         "encoding": {"x": {"field": "x", "type": "quantitative", "axis": {"values": [25, 100, 175, 250, 325], "labelExpr": "datum.value == 25 ? 'Baseline' : datum.value == 100 ? ['Nondominant', 'weighted'] : datum.value == 250 ? ['Dominant', 'weighted'] : 'Unweighted'", "labelAngle": -53, "labelAlign": "right", "labelBaseline": "middle", "labelFontSize": 52, "labelLineHeight": 60, "labelPadding": 22, "labelLimit": 1000, "labelOverlap": false, "labelFlush": false, "ticks": false, "title": null}},
           "y": {"field": "y", "type": "quantitative", "axis": {"orient": "right", "values": [-8, -4, 0, 4, 8], "tickSize": -10, "labels": false, "title": null}},
           "detail": {"field": "s", "type": "nominal"}}}
      ],
      "resolve": {"axis": {"y": "independent"}}
    },
    {
      "width": 1004, "height": 603,
      "layer": [
        {"data": {"name": "div"}, "mark": {"type": "rule", "color": "black", "strokeWidth": 2},
         "encoding": {"x": {"field": "x", "type": "quantitative", "scale": {"domain": [-5.7, 354.7], "nice": false, "zero": false},
           "axis": {"values": [25, 100, 175, 250, 325], "labelExpr": "datum.value == 25 ? 'Baseline' : datum.value == 100 ? ['Nondominant', 'weighted'] : datum.value == 250 ? ['Dominant', 'weighted'] : 'Unweighted'", "labelAngle": -53, "labelAlign": "right", "labelBaseline": "middle", "labelFontSize": 52, "labelLineHeight": 60, "labelPadding": 22, "labelLimit": 1000, "labelOverlap": false, "labelFlush": false, "ticks": false, "title": null}}}},
        {"data": {"name": "p8"}, "mark": {"type": "circle", "size": 330, "color": "#ff0000", "stroke": "#3a0000", "strokeWidth": 1.5, "opacity": 1},
         "encoding": {"x": {"field": "x", "type": "quantitative", "axis": {"values": [25, 100, 175, 250, 325], "labelExpr": "datum.value == 25 ? 'Baseline' : datum.value == 100 ? ['Nondominant', 'weighted'] : datum.value == 250 ? ['Dominant', 'weighted'] : 'Unweighted'", "labelAngle": -53, "labelAlign": "right", "labelBaseline": "middle", "labelFontSize": 52, "labelLineHeight": 60, "labelPadding": 22, "labelLimit": 1000, "labelOverlap": false, "labelFlush": false, "ticks": false, "title": null}},
           "y": {"field": "y", "type": "quantitative", "scale": {"domain": [-8, 8], "nice": false},
             "axis": {"values": [-8, -4, 0, 4, 8], "tickSize": -10, "labels": false, "title": null}}}},
        {"data": {"name": "f8"}, "mark": {"type": "line", "color": "black", "strokeWidth": 6},
         "encoding": {"x": {"field": "x", "type": "quantitative", "axis": {"values": [25, 100, 175, 250, 325], "labelExpr": "datum.value == 25 ? 'Baseline' : datum.value == 100 ? ['Nondominant', 'weighted'] : datum.value == 250 ? ['Dominant', 'weighted'] : 'Unweighted'", "labelAngle": -53, "labelAlign": "right", "labelBaseline": "middle", "labelFontSize": 52, "labelLineHeight": 60, "labelPadding": 22, "labelLimit": 1000, "labelOverlap": false, "labelFlush": false, "ticks": false, "title": null}},
           "y": {"field": "y", "type": "quantitative", "axis": {"orient": "right", "values": [-8, -4, 0, 4, 8], "tickSize": -10, "labels": false, "title": null}},
           "detail": {"field": "s", "type": "nominal"}}}
      ],
      "resolve": {"axis": {"y": "independent"}}
    }
  ],
  "config": {
    "font": "Liberation Sans",
    "view": {"stroke": "#8c8c8c", "strokeWidth": 3},
    "axis": {"domain": false, "grid": false, "tickColor": "#8c8c8c", "tickWidth": 2, "labelColor": "black", "titleColor": "black", "titleFontWeight": "normal", "labelFont": "Liberation Sans", "titleFont": "Liberation Sans"},
    "title": {"font": "Liberation Sans", "color": "black", "fontWeight": "normal"}
  }
}
